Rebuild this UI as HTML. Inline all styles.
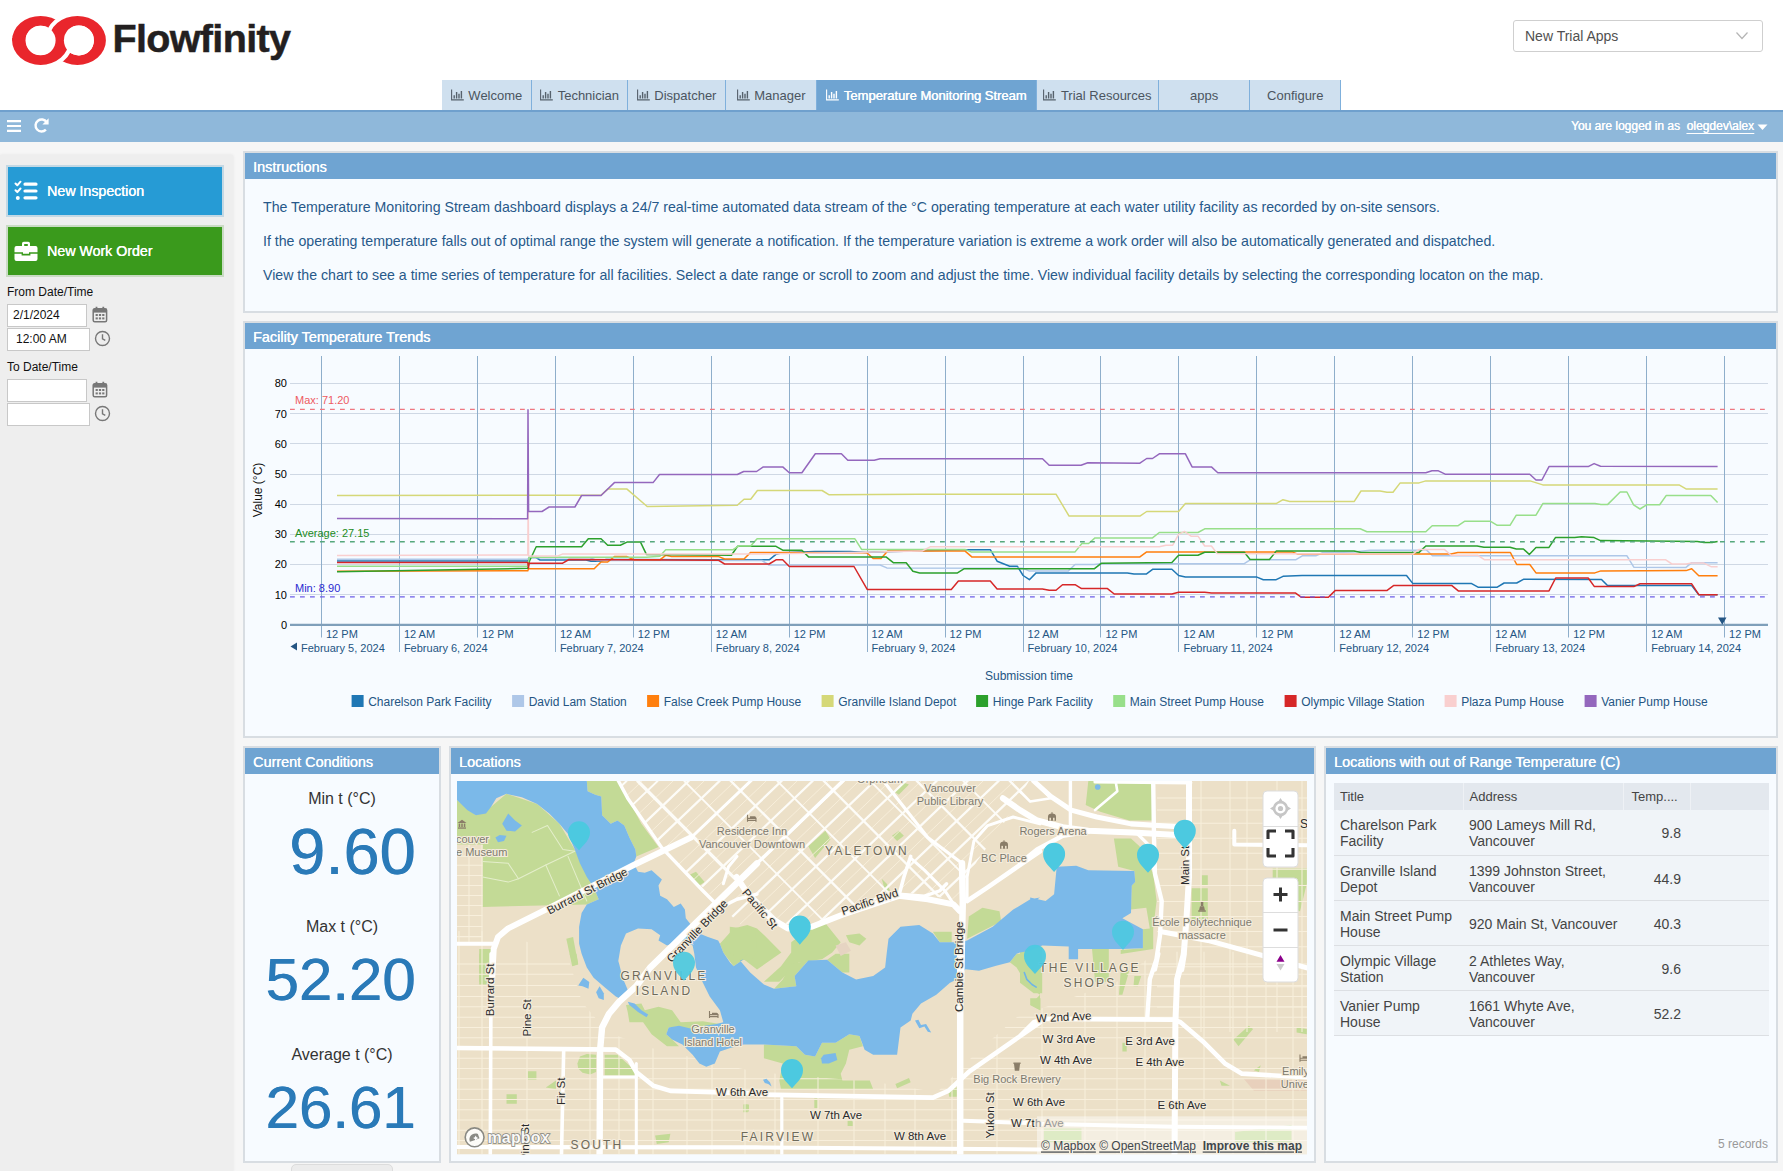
<!DOCTYPE html>
<html>
<head>
<meta charset="utf-8">
<title>Flowfinity - Temperature Monitoring Stream</title>
<style>
*{box-sizing:border-box;margin:0;padding:0}
html,body{width:1783px;height:1171px;overflow:hidden;background:#f6f6f6;font-family:"Liberation Sans",sans-serif;}
.abs{position:absolute}
#top{position:absolute;left:0;top:0;width:1783px;height:110px;background:#fff}
#logo{position:absolute;left:0;top:0}
#sel{position:absolute;left:1513px;top:20px;width:250px;height:32px;border:1px solid #cfcfcf;border-radius:3px;background:#fff;color:#505050;font-size:14px;line-height:30px;padding-left:11px}
#tabs{position:absolute;left:442px;top:80px;height:30px;display:flex}
.tab{height:30px;background:#cfe0ef;border-right:1px solid #7fb0dc;color:#4b5560;font-size:13px;line-height:31px;white-space:nowrap;display:flex;justify-content:center;align-items:center}
.tab.act{background:#6fa4d2;color:#fff;text-shadow:0.4px 0 0 #fff}
.tab svg{margin-right:4.5px;margin-top:-1px;flex:none}
#bar{position:absolute;left:0;top:110px;width:1783px;height:32px;background:#8fb8da;border-top:2px solid #6fa0cd}
#bar .login{position:absolute;right:29px;top:7px;color:#fff;font-size:12px;white-space:nowrap;text-shadow:0.3px 0 0 #fff}
#side{position:absolute;left:0;top:155px;width:233px;height:1017px;background:#eeeeee;box-shadow:0 0 3px rgba(0,0,0,0.08)}
.btn{position:absolute;left:6px;width:218px;height:52px;border:2px solid #c9cfd3;color:#fff;font-size:14.2px;text-shadow:0.3px 0 0 #fff}
.btn span{position:absolute;left:39px;top:16px;white-space:nowrap}
.lbl{position:absolute;left:7px;font-size:12px;color:#111;white-space:nowrap}
.inp{position:absolute;left:7px;height:23px;background:#fff;border:1px solid #c8c8c8;font-size:12px;color:#111;line-height:21px}
.panel{position:absolute;background:#f7fbff;border:2px solid #d8dde2}
.panel .hd{position:absolute;left:0;top:0;right:0;height:26px;background:#6fa4d2;color:#fff;font-size:14.4px;line-height:29.6px;padding-left:8px;overflow:hidden;text-shadow:0.3px 0 0 #fff;white-space:nowrap}
.ins{position:absolute;left:18px;font-size:14.17px;color:#27598a;white-space:nowrap}
.cl{position:absolute;left:0;width:194px;text-align:center;font-size:16px;color:#333;white-space:nowrap}
.cv{position:absolute;right:23.5px;font-size:60px;color:#2a7ab8;white-space:nowrap;line-height:60px;text-shadow:0.6px 0 0 #2a7ab8}
table.g{position:absolute;left:8px;top:35px;border-collapse:collapse;font-size:14px;color:#444;table-layout:fixed;width:435px}
table.g th{height:27px;background:#e3e8ee;font-weight:normal;text-align:left;font-size:13px;padding-left:6px;border-right:1px solid #eef1f5;color:#444}
table.g td{height:45px;background:#f0f4f8;border-bottom:1px solid #dcdfe3;padding-left:6px;padding-top:2px;line-height:16px;vertical-align:middle}
table.g td.n{text-align:right;padding-right:9px}
</style>
</head>
<body>
<div id="top">
<svg id="logo" width="320" height="80" viewBox="0 0 320 80">

<defs><clipPath id="ct"><rect x="0" y="0" width="120" height="40.4"/></clipPath>
<clipPath id="cb"><rect x="0" y="40.4" width="120" height="40"/></clipPath><clipPath id="cb2"><rect x="0" y="38" width="120" height="42"/></clipPath></defs>
<path id="lr" fill="#e9262c" fill-rule="evenodd" d="M12.1 40.4a28.5 24.5 0 1 0 57 0a28.5 24.5 0 1 0 -57 0zM25.6 40.5a15 14.8 0 1 1 30 0a15 14.8 0 1 1 -30 0z"/>
<ellipse cx="77.4" cy="40.4" rx="28.5" ry="24.5" fill="none" stroke="#fff" stroke-width="8.4" clip-path="url(#ct)"/>
<path fill="#e9262c" fill-rule="evenodd" d="M48.9 40.4a28.5 24.5 0 1 0 57 0a28.5 24.5 0 1 0 -57 0zM63.9 40.4a15 15 0 1 1 30 0a15 15 0 1 1 -30 0z"/>
<ellipse cx="40.6" cy="40.4" rx="28.5" ry="24.5" fill="none" stroke="#fff" stroke-width="8.4" clip-path="url(#cb)"/>
<g clip-path="url(#cb2)"><path fill="#e9262c" fill-rule="evenodd" d="M12.1 40.4a28.5 24.5 0 1 0 57 0a28.5 24.5 0 1 0 -57 0zM25.6 40.5a15 14.8 0 1 1 30 0a15 14.8 0 1 1 -30 0z"/></g>
<ellipse cx="40.6" cy="40.5" rx="15" ry="14.8" fill="#fff"/><ellipse cx="78.9" cy="40.4" rx="15" ry="15" fill="#fff"/>
<text x="112.5" y="52" font-family="Liberation Sans" font-weight="bold" font-size="39.5" letter-spacing="-0.65" fill="#231f20" stroke="#231f20" stroke-width="0.5">Flowfinity</text>

</svg>
<div id="sel">New Trial Apps
<svg class="abs" style="left:221px;top:10px" width="14" height="10" viewBox="0 0 14 10"><path d="M1.5 1.5 L7 7.5 L12.5 1.5" fill="none" stroke="#b5b5b5" stroke-width="1.2"/></svg>
</div>
<div id="tabs">
<div class="tab" style="width:90.2px"><svg width="13" height="12" viewBox="0 0 13 12"><path d="M0.6 0.5V10.9H12.8" fill="none" stroke="#56616c" stroke-width="1.1"/><path d="M3.2 9.6V6.2M5.6 9.6V3.0M8 9.6V4.8M10.4 9.6V2.0" stroke="#56616c" stroke-width="1.4" fill="none"/></svg><span>Welcome</span></div><div class="tab" style="width:95.9px"><svg width="13" height="12" viewBox="0 0 13 12"><path d="M0.6 0.5V10.9H12.8" fill="none" stroke="#56616c" stroke-width="1.1"/><path d="M3.2 9.6V6.2M5.6 9.6V3.0M8 9.6V4.8M10.4 9.6V2.0" stroke="#56616c" stroke-width="1.4" fill="none"/></svg><span>Technician</span></div><div class="tab" style="width:98.1px"><svg width="13" height="12" viewBox="0 0 13 12"><path d="M0.6 0.5V10.9H12.8" fill="none" stroke="#56616c" stroke-width="1.1"/><path d="M3.2 9.6V6.2M5.6 9.6V3.0M8 9.6V4.8M10.4 9.6V2.0" stroke="#56616c" stroke-width="1.4" fill="none"/></svg><span>Dispatcher</span></div><div class="tab" style="width:90.8px"><svg width="13" height="12" viewBox="0 0 13 12"><path d="M0.6 0.5V10.9H12.8" fill="none" stroke="#56616c" stroke-width="1.1"/><path d="M3.2 9.6V6.2M5.6 9.6V3.0M8 9.6V4.8M10.4 9.6V2.0" stroke="#56616c" stroke-width="1.4" fill="none"/></svg><span>Manager</span></div><div class="tab act" style="width:219.8px"><svg width="13" height="12" viewBox="0 0 13 12"><path d="M0.6 0.5V10.9H12.8" fill="none" stroke="#fff" stroke-width="1.1"/><path d="M3.2 9.6V6.2M5.6 9.6V3.0M8 9.6V4.8M10.4 9.6V2.0" stroke="#fff" stroke-width="1.4" fill="none"/></svg><span>Temperature Monitoring Stream</span></div><div class="tab" style="width:122.3px"><svg width="13" height="12" viewBox="0 0 13 12"><path d="M0.6 0.5V10.9H12.8" fill="none" stroke="#56616c" stroke-width="1.1"/><path d="M3.2 9.6V6.2M5.6 9.6V3.0M8 9.6V4.8M10.4 9.6V2.0" stroke="#56616c" stroke-width="1.4" fill="none"/></svg><span>Trial Resources</span></div><div class="tab" style="width:91.3px"><span>apps</span></div><div class="tab" style="width:90.8px"><span>Configure</span></div>
</div>
</div>
<div id="bar">
<svg class="abs" style="left:6px;top:7px" width="16" height="14" viewBox="0 0 16 14"><path d="M1 2.2h14M1 7h14M1 11.8h14" stroke="#fff" stroke-width="2.2" fill="none"/></svg>
<svg class="abs" style="left:33px;top:5.3px" width="17" height="17" viewBox="0 0 17 17"><path d="M13.6 5.2A6 6 0 1 0 12.9 12.6" fill="none" stroke="#fff" stroke-width="2.4"/><path d="M15.6 1.2v6.2h-6.2z" fill="#fff"/></svg>
<div class="login">You are logged in as&nbsp; <span style="text-decoration:underline;text-underline-offset:2.5px">olegdev\alex</span></div>
<svg class="abs" style="left:1757px;top:12px" width="12" height="7" viewBox="0 0 12 7"><path d="M0.5 0.5h10l-5 5.5z" fill="#fff"/></svg>
</div>
<div id="side">
<div class="btn" style="top:10px;background:#269bd5;border-color:#c3d8e4">
<svg class="abs" style="left:6.4px;top:13px" width="24" height="22" viewBox="0 0 24 22"><g fill="none" stroke="#fff" stroke-width="2" stroke-linecap="round" stroke-linejoin="round"><path d="M1.5 3.5l1.8 1.8 3.2-3.6M1.5 10.3l1.8 1.8 3.2-3.6"/></g><circle cx="3.8" cy="18" r="2" fill="#fff"/><g stroke="#fff" stroke-width="3.2" stroke-linecap="round"><path d="M11 4.2h11M11 11h11M11 17.8h11"/></g></svg>
<span>New Inspection</span></div>
<div class="btn" style="top:70px;background:#3a9a1c;border-color:#c9dbc4">
<svg class="abs" style="left:6.4px;top:13px" width="24" height="22" viewBox="0 0 24 22"><path fill="#fff" d="M8 3.5a1.8 1.8 0 0 1 1.8-1.8h4.4a1.8 1.8 0 0 1 1.8 1.8V6h-2.2V3.9H10.2V6H8z"/><path fill="#fff" d="M2.5 6h19a2 2 0 0 1 2 2v4.2H15v1.6H9v-1.6H0.5V8a2 2 0 0 1 2-2z"/><path fill="#fff" d="M0.5 13.8H7.6v1.6h8.8v-1.6h7.1V19a2 2 0 0 1-2 2h-19a2 2 0 0 1-2-2z"/></svg>
<span>New Work Order</span></div>
<div class="lbl" style="top:130px">From Date/Time</div>
<div class="inp" style="top:149px;width:80px;padding-left:5px">2/1/2024</div>
<div class="inp" style="top:173px;width:83px;padding-left:8px">12:00 AM</div>
<div class="lbl" style="top:205px">To Date/Time</div>
<div class="inp" style="top:224px;width:80px"></div>
<div class="inp" style="top:248px;width:83px"></div>
<svg class="abs" style="left:92px;top:151px" width="16" height="17" viewBox="0 0 16 17"><rect x="1.2" y="2.8" width="13.4" height="13" rx="1.5" fill="none" stroke="#777" stroke-width="1.5"/><rect x="1.2" y="2.8" width="13.4" height="3.8" fill="#777"/><path d="M4.5 0.8v3M11.3 0.8v3" stroke="#777" stroke-width="1.8"/><g fill="#777"><rect x="3.6" y="8" width="2.2" height="2"/><rect x="6.9" y="8" width="2.2" height="2"/><rect x="10.2" y="8" width="2.2" height="2"/><rect x="3.6" y="11.4" width="2.2" height="2"/><rect x="6.9" y="11.4" width="2.2" height="2"/><rect x="10.2" y="11.4" width="2.2" height="2"/></g></svg><svg class="abs" style="left:94px;top:175.4px" width="17" height="17" viewBox="0 0 17 17"><circle cx="8.5" cy="8.5" r="7" fill="none" stroke="#777" stroke-width="1.4"/><path d="M8.5 4.2v4.6l2.8 1.6" fill="none" stroke="#777" stroke-width="1.4"/></svg><svg class="abs" style="left:92px;top:226px" width="16" height="17" viewBox="0 0 16 17"><rect x="1.2" y="2.8" width="13.4" height="13" rx="1.5" fill="none" stroke="#777" stroke-width="1.5"/><rect x="1.2" y="2.8" width="13.4" height="3.8" fill="#777"/><path d="M4.5 0.8v3M11.3 0.8v3" stroke="#777" stroke-width="1.8"/><g fill="#777"><rect x="3.6" y="8" width="2.2" height="2"/><rect x="6.9" y="8" width="2.2" height="2"/><rect x="10.2" y="8" width="2.2" height="2"/><rect x="3.6" y="11.4" width="2.2" height="2"/><rect x="6.9" y="11.4" width="2.2" height="2"/><rect x="10.2" y="11.4" width="2.2" height="2"/></g></svg><svg class="abs" style="left:94px;top:250.4px" width="17" height="17" viewBox="0 0 17 17"><circle cx="8.5" cy="8.5" r="7" fill="none" stroke="#777" stroke-width="1.4"/><path d="M8.5 4.2v4.6l2.8 1.6" fill="none" stroke="#777" stroke-width="1.4"/></svg>
</div>

<div class="panel" style="left:243px;top:151px;width:1535px;height:162px">
<div class="hd">Instructions</div>
<div class="ins" style="top:46px">The Temperature Monitoring Stream dashboard displays a 24/7 real-time automated data stream of the °C operating temperature at each water utility facility as recorded by on-site sensors.</div>
<div class="ins" style="top:80px">If the operating temperature falls out of optimal range the system will generate a notification. If the temperature variation is extreme a work order will also be automatically generated and dispatched.</div>
<div class="ins" style="top:114px">View the chart to see a time series of temperature for all facilities. Select a date range or scroll to zoom and adjust the time. View individual facility details by selecting the corresponding locaton on the map.</div>
</div>

<div class="panel" style="left:243px;top:321px;width:1535px;height:417px">
<div class="hd">Facility Temperature Trends</div>
<svg class="abs" style="left:0;top:26px" width="1531" height="387" viewBox="245 349 1531 387" font-family="Liberation Sans, sans-serif">
<path d="M290 594.5H1768" stroke="#cfd8e4" stroke-width="1"/>
<path d="M290 564.5H1768" stroke="#cfd8e4" stroke-width="1"/>
<path d="M290 534.5H1768" stroke="#cfd8e4" stroke-width="1"/>
<path d="M290 504.5H1768" stroke="#cfd8e4" stroke-width="1"/>
<path d="M290 474.5H1768" stroke="#cfd8e4" stroke-width="1"/>
<path d="M290 443.5H1768" stroke="#cfd8e4" stroke-width="1"/>
<path d="M290 413.5H1768" stroke="#cfd8e4" stroke-width="1"/>
<path d="M290 383.5H1768" stroke="#cfd8e4" stroke-width="1"/>
<path d="M321.5 356V637.5" stroke="#8eaecb" stroke-width="1"/>
<path d="M399.5 356V652.0" stroke="#8eaecb" stroke-width="1"/>
<path d="M477.5 356V637.5" stroke="#8eaecb" stroke-width="1"/>
<path d="M555.5 356V652.0" stroke="#8eaecb" stroke-width="1"/>
<path d="M633.5 356V637.5" stroke="#8eaecb" stroke-width="1"/>
<path d="M711.5 356V652.0" stroke="#8eaecb" stroke-width="1"/>
<path d="M789.5 356V637.5" stroke="#8eaecb" stroke-width="1"/>
<path d="M867.5 356V652.0" stroke="#8eaecb" stroke-width="1"/>
<path d="M945.5 356V637.5" stroke="#8eaecb" stroke-width="1"/>
<path d="M1023.5 356V652.0" stroke="#8eaecb" stroke-width="1"/>
<path d="M1100.5 356V637.5" stroke="#8eaecb" stroke-width="1"/>
<path d="M1178.5 356V652.0" stroke="#8eaecb" stroke-width="1"/>
<path d="M1256.5 356V637.5" stroke="#8eaecb" stroke-width="1"/>
<path d="M1334.5 356V652.0" stroke="#8eaecb" stroke-width="1"/>
<path d="M1412.5 356V637.5" stroke="#8eaecb" stroke-width="1"/>
<path d="M1490.5 356V652.0" stroke="#8eaecb" stroke-width="1"/>
<path d="M1568.5 356V637.5" stroke="#8eaecb" stroke-width="1"/>
<path d="M1646.5 356V652.0" stroke="#8eaecb" stroke-width="1"/>
<path d="M1724.5 356V637.5" stroke="#8eaecb" stroke-width="1"/>
<path d="M290 624.9H1768" stroke="#7f9fba" stroke-width="2.1"/>
<text x="287" y="628.6" font-size="11" fill="#000" text-anchor="end">0</text>
<text x="287" y="598.5" font-size="11" fill="#000" text-anchor="end">10</text>
<text x="287" y="568.4" font-size="11" fill="#000" text-anchor="end">20</text>
<text x="287" y="538.3" font-size="11" fill="#000" text-anchor="end">30</text>
<text x="287" y="508.2" font-size="11" fill="#000" text-anchor="end">40</text>
<text x="287" y="478.1" font-size="11" fill="#000" text-anchor="end">50</text>
<text x="287" y="447.9" font-size="11" fill="#000" text-anchor="end">60</text>
<text x="287" y="417.8" font-size="11" fill="#000" text-anchor="end">70</text>
<text x="287" y="386.7" font-size="11" fill="#000" text-anchor="end">80</text>
<text transform="translate(262,490) rotate(-90)" font-size="12" fill="#111" text-anchor="middle">Value (°C)</text>
<path d="M337.0 561.0 L527.8 561.0 L529.0 557.5 L536.0 557.5 L540.0 560.0 L586.0 560.0 L591.0 561.2 L601.0 561.2 L606.0 559.5 L718.7 559.8 L769.2 559.8 L776.0 554.4 L782.0 552.7 L815.0 551.5 L850.0 551.5 L866.7 552.5 L873.4 552.0 L965.1 549.7 L990.3 549.7 L997.1 561.2 L1009.7 566.2 L1017.3 566.2 L1023.1 575.5 L1029.4 579.7 L1036.1 572.9 L1127.3 572.9 L1134.0 574.1 L1146.2 574.1 L1152.9 569.2 L1171.9 569.2 L1178.6 575.5 L1185.4 577.1 L1256.9 577.1 L1263.3 579.7 L1276.2 579.7 L1283.0 576.3 L1302.0 575.5 L1406.5 575.5 L1412.7 583.4 L1471.2 583.4 L1478.0 587.2 L1497.3 587.2 L1504.1 583.0 L1516.7 583.0 L1523.4 579.3 L1601.5 579.4 L1607.5 585.6 L1691.7 585.6 L1698.8 594.7 L1717.6 594.7" fill="none" stroke="#1f77b4" stroke-width="1.5" stroke-linejoin="round"/>
<path d="M337.0 559.3 L527.8 559.3 L529.0 557.8 L590.0 557.8 L597.0 560.5 L762.0 560.5 L769.0 565.0 L880.1 565.0 L886.8 567.9 L1023.0 568.3 L1029.0 570.9 L1068.4 570.9 L1075.1 564.5 L1094.0 564.5 L1101.0 563.7 L1244.3 563.7 L1250.1 559.8 L1295.6 559.8 L1302.3 555.8 L1315.8 555.8 L1322.5 552.7 L1354.0 552.0 L1370.0 550.2 L1419.0 550.2 L1425.8 549.4 L1432.5 555.8 L1626.8 555.7 L1633.8 567.2 L1686.0 567.4 L1691.7 562.7 L1717.6 562.7" fill="none" stroke="#aec7e8" stroke-width="1.5" stroke-linejoin="round"/>
<path d="M337.0 571.3 L527.8 570.8 L528.5 568.7 L594.2 568.7 L601.0 562.0 L607.7 562.0 L614.4 556.6 L627.0 556.6 L633.8 559.8 L659.9 559.8 L665.7 555.3 L671.6 556.6 L718.7 556.6 L724.6 559.0 L744.0 559.0 L750.7 552.4 L866.7 552.7 L873.4 558.6 L881.0 558.6 L887.7 551.1 L965.1 551.1 L971.8 556.9 L1139.9 556.9 L1146.7 551.9 L1292.0 551.9 L1298.0 554.1 L1451.1 554.1 L1457.8 552.4 L1510.3 552.4 L1516.7 564.5 L1529.8 564.5 L1536.0 572.9 L1594.9 572.9 L1600.8 570.9 L1686.0 570.6 L1691.7 568.7 L1698.8 575.7 L1717.6 575.7" fill="none" stroke="#ff7f0e" stroke-width="1.5" stroke-linejoin="round"/>
<path d="M337.0 495.5 L601.0 495.2 L607.7 489.1 L627.0 489.1 L647.2 506.5 L737.3 505.3 L744.0 499.2 L750.7 499.2 L757.4 490.5 L822.1 490.5 L828.8 494.7 L919.0 494.2 L1056.0 494.2 L1069.1 516.1 L1139.9 516.1 L1146.7 511.5 L1178.6 511.5 L1185.4 503.6 L1276.2 503.6 L1283.0 499.7 L1289.7 501.4 L1354.3 501.4 L1361.0 491.0 L1380.0 491.0 L1387.0 492.2 L1393.0 492.2 L1400.2 482.9 L1419.1 482.9 L1425.8 480.9 L1530.1 480.9 L1542.8 484.9 L1679.5 485.1 L1686.0 488.9 L1717.6 488.9" fill="none" stroke="#d5d878" stroke-width="1.5" stroke-linejoin="round"/>
<path d="M337.0 571.8 L527.8 568.3 L529.5 561.0 L536.2 546.8 L581.6 546.8 L588.3 538.8 L601.0 538.8 L607.7 545.2 L620.3 545.2 L627.0 542.1 L640.5 542.1 L646.4 554.4 L731.4 555.2 L737.6 546.3 L776.0 546.3 L782.7 550.2 L801.9 550.2 L808.6 556.9 L886.0 556.9 L893.6 562.8 L906.2 562.8 L912.9 571.2 L919.7 572.9 L957.5 572.9 L964.3 568.7 L1094.5 568.7 L1101.2 563.3 L1171.9 562.5 L1178.6 555.3 L1198.0 555.3 L1204.7 552.2 L1244.3 552.2 L1250.1 559.5 L1269.5 559.5 L1276.2 551.1 L1354.0 551.1 L1361.0 552.4 L1419.1 552.4 L1425.8 546.0 L1477.1 546.0 L1483.9 547.2 L1510.0 547.2 L1516.3 549.0 L1523.4 549.0 L1529.3 554.4 L1536.0 547.4 L1549.0 547.4 L1555.4 537.6 L1574.7 537.6 L1581.5 536.8 L1594.1 537.6 L1600.5 540.6 L1697.3 541.5 L1704.0 542.4 L1712.0 542.4 L1717.6 541.5" fill="none" stroke="#2ca02c" stroke-width="1.5" stroke-linejoin="round"/>
<path d="M337.0 566.3 L527.8 566.3 L529.0 557.3 L646.4 557.3 L659.9 556.2 L665.7 549.7 L733.0 549.7 L738.9 546.0 L750.7 546.0 L757.1 538.8 L854.9 538.8 L861.6 549.4 L965.1 549.4 L971.0 551.9 L1075.1 551.9 L1081.9 543.5 L1088.6 543.5 L1095.0 537.9 L1152.5 537.9 L1159.3 532.5 L1198.0 532.5 L1204.7 528.8 L1360.2 528.8 L1366.9 531.7 L1425.8 531.7 L1432.2 525.8 L1457.8 525.8 L1464.5 521.3 L1490.6 521.3 L1497.3 525.3 L1510.0 525.3 L1516.3 515.2 L1536.0 515.2 L1542.8 503.6 L1594.9 503.6 L1601.0 504.6 L1607.5 504.6 L1620.2 492.0 L1626.9 492.0 L1633.6 504.8 L1640.0 509.0 L1646.6 504.8 L1659.7 504.8 L1666.3 495.4 L1710.8 495.4 L1717.6 502.6" fill="none" stroke="#98df8a" stroke-width="1.5" stroke-linejoin="round"/>
<path d="M337.0 562.4 L527.8 562.4 L528.5 568.0 L529.0 563.3 L562.3 563.3 L569.0 559.5 L718.7 560.3 L724.6 564.0 L769.2 564.0 L776.0 559.8 L782.7 559.8 L789.3 566.5 L854.0 566.5 L867.2 589.4 L951.3 589.4 L958.4 581.0 L990.3 581.0 L997.1 588.9 L1042.5 588.9 L1049.2 590.3 L1056.0 590.3 L1062.5 584.7 L1075.1 584.7 L1081.5 588.6 L1107.5 588.6 L1114.2 594.0 L1171.9 594.0 L1178.6 592.3 L1204.7 592.3 L1211.4 593.1 L1295.6 593.1 L1301.5 597.3 L1328.4 597.3 L1335.1 590.6 L1386.8 590.6 L1393.5 585.6 L1451.9 585.6 L1458.3 590.9 L1549.0 590.9 L1555.7 578.0 L1588.2 578.0 L1594.4 586.6 L1633.8 586.6 L1640.0 583.8 L1691.7 583.8 L1698.8 594.7 L1717.6 594.7" fill="none" stroke="#d62728" stroke-width="1.5" stroke-linejoin="round"/>
<path d="M337.0 555.6 L527.8 554.9 L528.2 500.0 L528.6 556.1 L557.2 556.1 L562.3 554.1 L760.0 554.1 L850.0 552.5 L922.0 551.1 L930.0 546.8 L1159.3 546.8 L1166.0 545.2 L1172.7 545.2 L1178.6 534.3 L1184.5 531.4 L1191.0 536.2 L1198.0 536.2 L1204.7 546.0 L1211.4 546.0 L1217.3 553.6 L1412.7 554.1 L1419.1 549.4 L1444.3 549.4 L1451.1 555.3 L1478.0 555.3 L1484.7 559.8 L1665.4 559.7 L1671.9 564.0 L1686.0 564.0 L1691.7 563.1 L1703.9 563.1 L1711.4 566.8 L1717.6 566.8" fill="none" stroke="#f9cfcf" stroke-width="1.5" stroke-linejoin="round"/>
<path d="M337.0 518.5 L527.6 518.7 L528.0 409.7 L528.6 511.5 L542.0 511.5 L549.1 507.0 L574.9 507.0 L581.6 495.5 L601.0 495.5 L614.4 482.6 L653.1 482.6 L659.5 474.5 L737.3 474.5 L743.7 471.5 L756.6 471.5 L763.3 466.9 L782.7 466.9 L789.3 472.8 L801.9 472.8 L815.3 453.8 L841.4 453.8 L847.8 460.2 L874.2 460.2 L880.1 458.8 L1042.5 458.8 L1049.2 465.2 L1081.0 465.2 L1087.8 462.7 L1139.9 463.2 L1146.7 458.5 L1152.5 458.5 L1159.3 453.8 L1185.4 453.8 L1192.1 466.9 L1211.4 466.9 L1217.8 472.8 L1425.8 472.8 L1432.0 470.8 L1438.4 470.8 L1445.2 474.2 L1529.8 474.2 L1536.0 480.0 L1541.9 480.0 L1549.0 466.6 L1588.2 466.6 L1594.1 463.6 L1600.5 466.3 L1717.6 466.5" fill="none" stroke="#9467bd" stroke-width="1.5" stroke-linejoin="round"/>
<path d="M290 409.4H1768" stroke="#ef7780" stroke-width="1.3" stroke-dasharray="4.8 5.2"/>
<path d="M290 541.8H1768" stroke="#55a87c" stroke-width="1.4" stroke-dasharray="4.8 5.2"/>
<path d="M290 596.9H1768" stroke="#6d5fe8" stroke-width="1.4" stroke-dasharray="4.8 5.2"/>
<text x="295" y="404" font-size="11" fill="#ee5a62">Max: 71.20</text>
<text x="295" y="537" font-size="11" fill="#228b22">Average: 27.15</text>
<text x="295" y="592" font-size="11" fill="#2a2ad0">Min: 8.90</text>
<text x="326.0" y="638" font-size="11" fill="#245583">12 PM</text>
<text x="403.9" y="638" font-size="11" fill="#245583">12 AM</text>
<text x="481.9" y="638" font-size="11" fill="#245583">12 PM</text>
<text x="559.9" y="638" font-size="11" fill="#245583">12 AM</text>
<text x="637.8" y="638" font-size="11" fill="#245583">12 PM</text>
<text x="715.8" y="638" font-size="11" fill="#245583">12 AM</text>
<text x="793.7" y="638" font-size="11" fill="#245583">12 PM</text>
<text x="871.6" y="638" font-size="11" fill="#245583">12 AM</text>
<text x="949.6" y="638" font-size="11" fill="#245583">12 PM</text>
<text x="1027.6" y="638" font-size="11" fill="#245583">12 AM</text>
<text x="1105.5" y="638" font-size="11" fill="#245583">12 PM</text>
<text x="1183.5" y="638" font-size="11" fill="#245583">12 AM</text>
<text x="1261.4" y="638" font-size="11" fill="#245583">12 PM</text>
<text x="1339.3" y="638" font-size="11" fill="#245583">12 AM</text>
<text x="1417.3" y="638" font-size="11" fill="#245583">12 PM</text>
<text x="1495.2" y="638" font-size="11" fill="#245583">12 AM</text>
<text x="1573.2" y="638" font-size="11" fill="#245583">12 PM</text>
<text x="1651.2" y="638" font-size="11" fill="#245583">12 AM</text>
<text x="1729.1" y="638" font-size="11" fill="#245583">12 PM</text>
<text x="301" y="652" font-size="11" fill="#245583">February 5, 2024</text>
<path d="M297 642.5v8l-6.5-4z" fill="#245583"/>
<text x="403.9" y="652" font-size="11" fill="#245583">February 6, 2024</text>
<text x="559.9" y="652" font-size="11" fill="#245583">February 7, 2024</text>
<text x="715.8" y="652" font-size="11" fill="#245583">February 8, 2024</text>
<text x="871.6" y="652" font-size="11" fill="#245583">February 9, 2024</text>
<text x="1027.6" y="652" font-size="11" fill="#245583">February 10, 2024</text>
<text x="1183.5" y="652" font-size="11" fill="#245583">February 11, 2024</text>
<text x="1339.3" y="652" font-size="11" fill="#245583">February 12, 2024</text>
<text x="1495.2" y="652" font-size="11" fill="#245583">February 13, 2024</text>
<text x="1651.2" y="652" font-size="11" fill="#245583">February 14, 2024</text>
<path d="M1718 617.5h8.5l-4.2 7.2z" fill="#245583"/>
<text x="1029" y="680" font-size="12" fill="#245583" text-anchor="middle">Submission time</text>
<rect x="351.6" y="695" width="12" height="12" fill="#1f77b4"/>
<text x="368.2" y="706" font-size="12" fill="#245583">Charelson Park Facility</text>
<rect x="512.1" y="695" width="12" height="12" fill="#aec7e8"/>
<text x="528.7" y="706" font-size="12" fill="#245583">David Lam Station</text>
<rect x="647.1" y="695" width="12" height="12" fill="#ff7f0e"/>
<text x="663.7" y="706" font-size="12" fill="#245583">False Creek Pump House</text>
<rect x="821.6" y="695" width="12" height="12" fill="#d5d878"/>
<text x="838.2" y="706" font-size="12" fill="#245583">Granville Island Depot</text>
<rect x="976.1" y="695" width="12" height="12" fill="#2ca02c"/>
<text x="992.7" y="706" font-size="12" fill="#245583">Hinge Park Facility</text>
<rect x="1113.2" y="695" width="12" height="12" fill="#98df8a"/>
<text x="1129.8" y="706" font-size="12" fill="#245583">Main Street Pump House</text>
<rect x="1284.6" y="695" width="12" height="12" fill="#d62728"/>
<text x="1301.2" y="706" font-size="12" fill="#245583">Olympic Village Station</text>
<rect x="1444.6" y="695" width="12" height="12" fill="#f9cfcf"/>
<text x="1461.2" y="706" font-size="12" fill="#245583">Plaza Pump House</text>
<rect x="1584.6" y="695" width="12" height="12" fill="#9467bd"/>
<text x="1601.2" y="706" font-size="12" fill="#245583">Vanier Pump House</text>
</svg>
</div>

<div class="panel" style="left:243px;top:746px;width:198px;height:417px">
<div class="hd">Current Conditions</div>
<div class="cl" style="top:42px">Min t (°C)</div>
<div class="cv" style="top:73.8px;font-size:65px">9.60</div>
<div class="cl" style="top:170px">Max t (°C)</div>
<div class="cv" style="top:202px">52.20</div>
<div class="cl" style="top:298px">Average t (°C)</div>
<div class="cv" style="top:330px">26.61</div>
</div>

<div class="panel" style="left:449px;top:746px;width:867px;height:417px">
<div class="hd">Locations</div>
<svg class="abs" style="left:6px;top:33px" width="850" height="373.5" viewBox="0 0 850 373.5" font-family="Liberation Sans, sans-serif">
<defs><clipPath id="mc"><rect x="0" y="0" width="850" height="372.01"/></clipPath><clipPath id="dt"><path d="M160 0 L205 68 L245 105 L285 145 L300 128 L345 150 L440 110 L500 118 L520 80 L545 45 L572 0Z"/></clipPath><clipPath id="south"><path d="M0 130 L35 150 L110 172 L125 220 L150 250 L190 265 L300 290 L420 300 L480 310 L520 270 L560 235 L660 200 L700 170 L850 170 L850 372 L0 372Z"/></clipPath><clipPath id="east"><path d="M700 0H850V250H700Z"/></clipPath></defs>
<g transform="scale(1,1.00403)"><g clip-path="url(#mc)">
<rect width="850" height="372" fill="#ece0c8"/>
<path d="M0.0 3.4 L0.0 63.2 L25.6 63.2 L25.6 125.5 L129.8 122.9 L141.7 117.8 L136.6 105.9 L117.8 68.3 L102.4 42.7 L80.2 23.0 L49.5 12.8 L34.1 25.6 L18.8 34.1 L0.0 18.8Z" fill="#c3da96" />
<path d="M129.8 0.0 L160.5 0.0 L170.7 17.1 L184.4 42.7 L201.5 65.7 L179.3 75.1 L178.4 68.3 L172.4 56.3 L167.3 44.4 L160.5 39.3 L153.7 42.7 L145.1 34.1 L144.3 15.4 L138.3 13.7 L130.6 10.2Z" fill="#c3da96" />
<path d="M233.1 93.1 L239.0 90.5 L247.6 100.7 L242.4 104.1Z" fill="#c3da96" />
<path d="M109.3 157.1 L116.1 155.4 L121.2 182.7 L115.2 184.4Z" fill="#c3da96" />
<path d="M22.2 167.3 L34.1 167.3 L34.1 199.9 L22.2 199.9Z" fill="#c3da96" />
<path d="M262.9 162.2 L276.6 146.8 L290.3 143.4 L300.0 146.8 L307.3 153.7 L324.4 170.7 L300.0 187.8 L286.8 177.6 L276.6 184.4 L266.3 170.7Z" fill="#c3da96" />
<path d="M22.2 172.0 L34.1 172.0 L34.1 202.7 L22.2 202.7Z" fill="#c3da96" />
<path d="M112.7 172.0 L119.5 172.0 L121.2 182.2 L116.1 184.0Z" fill="#c3da96" />
<path d="M169.0 223.2 L184.4 221.5 L187.8 228.3 L201.5 224.9 L215.1 228.3 L223.7 240.3 L245.9 239.4 L262.9 242.0 L247.6 244.6 L235.6 248.0 L222.0 244.6 L211.7 245.4 L209.2 252.2 L215.1 257.4 L222.0 264.2 L210.0 264.2 L194.6 252.2 L186.1 240.3 L172.4 240.3 L170.7 230.1Z" fill="#c3da96" />
<path d="M147.7 272.7 L160.5 272.7 L177.6 288.1 L177.6 293.2 L147.7 293.2Z" fill="#c3da96" />
<path d="M70.9 289.0 L79.4 289.0 L79.4 297.5 L70.9 297.5Z" fill="#c3da96" />
<path d="M120.4 281.3 L122.9 274.4 L129.8 271.9 L139.1 272.7 L139.1 289.8 L133.2 292.4 L125.5 290.7 L121.2 286.4Z" fill="#c3da96" />
<path d="M49.5 312.0 L59.8 312.0 L59.8 321.4 L49.5 321.4Z" fill="#c3da96" />
<path d="M88.8 305.2 L99.0 298.3 L99.0 306.9Z" fill="#c3da96" />
<path d="M198.1 353.0 L213.4 351.3 L211.7 359.8 L199.8 361.5Z" fill="#c3da96" />
<path d="M286.8 322.2 L292.0 322.2 L292.0 329.1 L286.8 329.1Z" fill="#c3da96" />
<path d="M272.8 145.1 L298.4 148.5 L300.1 170.7 L293.2 179.3 L283.0 177.6 L272.8 170.7Z" fill="#c3da96" />
<path d="M334.2 160.5 L354.7 145.1 L368.4 141.7 L383.7 160.5 L375.2 170.7 L365.0 177.6 L341.1 181.0 L322.3 199.9 L306.9 199.9 L324.0 184.4 L334.2 170.7Z" fill="#c3da96" />
<path d="M351.3 64.9 L368.4 49.5 L373.5 58.1 L358.1 76.8Z" fill="#c3da96" />
<path d="M435.0 54.6 L441.8 49.5 L446.9 54.6 L440.1 59.8Z" fill="#c3da96" />
<path d="M436.7 10.2 L446.9 1.7 L452.0 3.4 L441.8 13.7Z" fill="#c3da96" />
<path d="M424.7 97.3 L429.8 102.4 L433.2 109.3 L428.1 109.3Z" fill="#c3da96" />
<path d="M511.8 134.9 L525.4 126.3 L542.5 129.8 L544.2 140.0 L510.1 157.1Z" fill="#c3da96" />
<path d="M475.9 150.2 L494.7 150.2 L494.7 160.5 L482.8 160.5Z" fill="#c3da96" />
<path d="M388.9 153.7 L402.5 152.0 L409.3 157.1 L402.5 163.9 L392.3 160.5Z" fill="#c3da96" />
<path d="M283.0 172.0 L291.5 172.0 L283.0 178.8Z" fill="#c3da96" />
<path d="M317.1 207.0 L339.3 204.4 L337.6 194.2 L351.3 178.8 L334.2 182.2 L325.7 197.6Z" fill="#c3da96" />
<path d="M370.1 178.0 L378.6 172.0 L392.3 172.0 L392.3 190.8 L385.4 190.8Z" fill="#c3da96" />
<path d="M306.9 262.5 L339.3 264.2 L347.9 272.7 L358.1 274.4 L365.0 260.8 L378.6 260.8 L392.3 252.2 L402.5 254.0 L405.9 264.2 L392.3 267.6 L388.9 281.3 L383.7 291.5 L385.4 298.3 L412.8 298.3 L416.2 306.9 L324.0 306.9 L322.3 298.3 L325.7 281.3 L306.9 276.1Z" fill="#c3da96" />
<path d="M552.8 180.5 L559.6 172.0 L583.0 172.0 L583.0 228.3 L573.3 223.2 L583.0 213.0 L573.3 206.1 L564.7 194.2 L559.6 185.7Z" fill="#c3da96" />
<path d="M438.4 301.8 L452.0 295.8 L453.7 300.1 L440.1 306.0Z" fill="#c3da96" />
<path d="M357.3 316.3 L360.7 316.3 L360.7 325.7 L357.3 325.7Z" fill="#c3da96" />
<path d="M491.3 308.6 L499.8 305.2 L499.8 314.6 L492.2 314.6Z" fill="#c3da96" />
<path d="M390.6 338.5 L395.7 338.5 L395.7 343.6 L390.6 343.6Z" fill="#c3da96" />
<path d="M286.4 322.2 L290.7 322.2 L290.7 329.9 L286.4 329.9Z" fill="#c3da96" />
<path d="M656.9 57.2 L674.0 57.2 L682.5 64.9 L696.2 92.2 L699.6 119.5 L696.2 146.8 L696.2 167.3 L663.7 172.4 L663.7 168.2 L685.9 166.5 L685.9 147.7 L692.8 146.8 L689.3 126.3 L674.0 128.1 L674.8 104.1 L678.2 100.7 L677.4 89.6 L661.2 85.4Z" fill="#c3da96" />
<path d="M631.3 0.0 L696.2 0.0 L695.3 39.3 L672.3 39.3 L643.2 30.7 L628.7 23.9 L630.4 8.5Z" fill="#c3da96" />
<path d="M734.6 106.7 L750.8 106.7 L750.8 141.7 L734.6 141.7Z" fill="#c3da96" />
<path d="M744.8 93.9 L750.8 93.9 L750.8 104.1 L744.8 104.1Z" fill="#c3da96" />
<path d="M815.7 87.1 L849.8 87.1 L849.8 102.4 L843.0 129.8 L815.7 119.5Z" fill="#c3da96" />
<path d="M634.7 163.9 L643.2 158.8 L651.8 163.9 L651.8 199.9 L638.1 199.9Z" fill="#c3da96" />
<path d="M563.0 166.9 L585.2 165.2 L585.2 211.3 L576.7 211.3 L563.0 201.0Z" fill="#c3da96" />
<path d="M663.7 189.1 L672.3 189.1 L665.4 213.0 L662.0 213.0Z" fill="#c3da96" />
<path d="M677.4 194.2 L684.2 194.2 L680.8 204.4 L676.5 204.4Z" fill="#c3da96" />
<path d="M573.2 216.4 L583.5 216.4 L583.5 228.3 L573.2 223.2Z" fill="#c3da96" />
<path d="M776.4 257.4 L791.8 243.7 L796.1 247.1 L781.5 264.2Z" fill="#c3da96" />
<path d="M762.8 298.3 L773.0 303.5 L764.5 303.5Z" fill="#c3da96" />
<path d="M796.9 288.1 L803.7 283.0 L802.0 289.8Z" fill="#c3da96" />
<path d="M839.6 245.4 L849.8 247.1 L849.8 252.2 L839.6 250.5Z" fill="#c3da96" />
<path d="M665.4 260.8 L669.7 260.8 L669.7 269.3 L665.4 269.3Z" fill="#c3da96" />
<path d="M586.9 346.2 L624.5 346.2 L624.5 359.8 L586.9 359.8Z" fill="#c3da96" />
<path d="M778.1 349.6 L834.5 342.7 L834.5 359.8 L778.1 359.8Z" fill="#c3da96" />
<path d="M786.7 296.6 L849.8 298.3 L849.8 308.6 L796.9 308.6Z" fill="#e8d0bc" />
<path d="M378.6 163.9 L388.9 160.5 L394.0 169.0 L383.7 174.2Z" fill="#e6d4c2" />
<g clip-path="url(#south)">
<path d="M0.0 182.2 L850.0 182.2" fill="none" stroke="#f8efdc" stroke-width="1.0" stroke-linejoin="round" stroke-linecap="round" />
<path d="M0.0 192.5 L850.0 192.5" fill="none" stroke="#f8efdc" stroke-width="1.0" stroke-linejoin="round" stroke-linecap="round" />
<path d="M0.0 203.6 L850.0 203.6" fill="none" stroke="#f8efdc" stroke-width="1.0" stroke-linejoin="round" stroke-linecap="round" />
<path d="M0.0 214.7 L850.0 214.7" fill="none" stroke="#f8efdc" stroke-width="1.0" stroke-linejoin="round" stroke-linecap="round" />
<path d="M0.0 224.9 L850.0 224.9" fill="none" stroke="#f8efdc" stroke-width="1.0" stroke-linejoin="round" stroke-linecap="round" />
<path d="M0.0 235.2 L850.0 235.2" fill="none" stroke="#f8efdc" stroke-width="1.0" stroke-linejoin="round" stroke-linecap="round" />
<path d="M0.0 245.4 L850.0 245.4" fill="none" stroke="#f8efdc" stroke-width="1.0" stroke-linejoin="round" stroke-linecap="round" />
<path d="M0.0 255.7 L850.0 255.7" fill="none" stroke="#f8efdc" stroke-width="1.0" stroke-linejoin="round" stroke-linecap="round" />
<path d="M0.0 276.1 L850.0 276.1" fill="none" stroke="#f8efdc" stroke-width="1.0" stroke-linejoin="round" stroke-linecap="round" />
<path d="M0.0 286.4 L850.0 286.4" fill="none" stroke="#f8efdc" stroke-width="1.0" stroke-linejoin="round" stroke-linecap="round" />
<path d="M0.0 296.6 L850.0 296.6" fill="none" stroke="#f8efdc" stroke-width="1.0" stroke-linejoin="round" stroke-linecap="round" />
<path d="M0.0 306.9 L850.0 306.9" fill="none" stroke="#f8efdc" stroke-width="1.0" stroke-linejoin="round" stroke-linecap="round" />
<path d="M0.0 317.1 L850.0 317.1" fill="none" stroke="#f8efdc" stroke-width="1.0" stroke-linejoin="round" stroke-linecap="round" />
<path d="M0.0 327.4 L850.0 327.4" fill="none" stroke="#f8efdc" stroke-width="1.0" stroke-linejoin="round" stroke-linecap="round" />
<path d="M0.0 337.6 L850.0 337.6" fill="none" stroke="#f8efdc" stroke-width="1.0" stroke-linejoin="round" stroke-linecap="round" />
<path d="M0.0 347.9 L850.0 347.9" fill="none" stroke="#f8efdc" stroke-width="1.0" stroke-linejoin="round" stroke-linecap="round" />
<path d="M0.0 358.1 L850.0 358.1" fill="none" stroke="#f8efdc" stroke-width="1.0" stroke-linejoin="round" stroke-linecap="round" />
<path d="M2.0 150.0 L2.0 372.0" fill="none" stroke="#f8efdc" stroke-width="1.0" stroke-linejoin="round" stroke-linecap="round" />
<path d="M25.0 150.0 L25.0 372.0" fill="none" stroke="#f8efdc" stroke-width="1.0" stroke-linejoin="round" stroke-linecap="round" />
<path d="M70.0 150.0 L70.0 372.0" fill="none" stroke="#f8efdc" stroke-width="1.0" stroke-linejoin="round" stroke-linecap="round" />
<path d="M133.0 150.0 L133.0 372.0" fill="none" stroke="#f8efdc" stroke-width="1.0" stroke-linejoin="round" stroke-linecap="round" />
<path d="M162.0 150.0 L162.0 372.0" fill="none" stroke="#f8efdc" stroke-width="1.0" stroke-linejoin="round" stroke-linecap="round" />
<path d="M196.0 150.0 L196.0 372.0" fill="none" stroke="#f8efdc" stroke-width="1.0" stroke-linejoin="round" stroke-linecap="round" />
<path d="M230.0 150.0 L230.0 372.0" fill="none" stroke="#f8efdc" stroke-width="1.0" stroke-linejoin="round" stroke-linecap="round" />
<path d="M255.0 150.0 L255.0 372.0" fill="none" stroke="#f8efdc" stroke-width="1.0" stroke-linejoin="round" stroke-linecap="round" />
<path d="M288.0 150.0 L288.0 372.0" fill="none" stroke="#f8efdc" stroke-width="1.0" stroke-linejoin="round" stroke-linecap="round" />
<path d="M318.0 150.0 L318.0 372.0" fill="none" stroke="#f8efdc" stroke-width="1.0" stroke-linejoin="round" stroke-linecap="round" />
<path d="M361.0 150.0 L361.0 372.0" fill="none" stroke="#f8efdc" stroke-width="1.0" stroke-linejoin="round" stroke-linecap="round" />
<path d="M397.0 150.0 L397.0 372.0" fill="none" stroke="#f8efdc" stroke-width="1.0" stroke-linejoin="round" stroke-linecap="round" />
<path d="M428.0 150.0 L428.0 372.0" fill="none" stroke="#f8efdc" stroke-width="1.0" stroke-linejoin="round" stroke-linecap="round" />
<path d="M458.0 150.0 L458.0 372.0" fill="none" stroke="#f8efdc" stroke-width="1.0" stroke-linejoin="round" stroke-linecap="round" />
<path d="M495.0 150.0 L495.0 372.0" fill="none" stroke="#f8efdc" stroke-width="1.0" stroke-linejoin="round" stroke-linecap="round" />
<path d="M540.0 150.0 L540.0 372.0" fill="none" stroke="#f8efdc" stroke-width="1.0" stroke-linejoin="round" stroke-linecap="round" />
<path d="M585.0 150.0 L585.0 372.0" fill="none" stroke="#f8efdc" stroke-width="1.0" stroke-linejoin="round" stroke-linecap="round" />
<path d="M628.0 150.0 L628.0 372.0" fill="none" stroke="#f8efdc" stroke-width="1.0" stroke-linejoin="round" stroke-linecap="round" />
<path d="M660.0 150.0 L660.0 372.0" fill="none" stroke="#f8efdc" stroke-width="1.0" stroke-linejoin="round" stroke-linecap="round" />
<path d="M688.0 150.0 L688.0 372.0" fill="none" stroke="#f8efdc" stroke-width="1.0" stroke-linejoin="round" stroke-linecap="round" />
<path d="M720.0 150.0 L720.0 372.0" fill="none" stroke="#f8efdc" stroke-width="1.0" stroke-linejoin="round" stroke-linecap="round" />
<path d="M747.0 150.0 L747.0 372.0" fill="none" stroke="#f8efdc" stroke-width="1.0" stroke-linejoin="round" stroke-linecap="round" />
<path d="M776.0 150.0 L776.0 372.0" fill="none" stroke="#f8efdc" stroke-width="1.0" stroke-linejoin="round" stroke-linecap="round" />
<path d="M809.0 150.0 L809.0 372.0" fill="none" stroke="#f8efdc" stroke-width="1.0" stroke-linejoin="round" stroke-linecap="round" />
<path d="M836.0 150.0 L836.0 372.0" fill="none" stroke="#f8efdc" stroke-width="1.0" stroke-linejoin="round" stroke-linecap="round" />
</g>
<path d="M0.0 75.0 L25.0 75.0" fill="none" stroke="#f8efdc" stroke-width="1.0" stroke-linejoin="round" stroke-linecap="round" />
<path d="M0.0 84.0 L25.0 84.0" fill="none" stroke="#f8efdc" stroke-width="1.0" stroke-linejoin="round" stroke-linecap="round" />
<path d="M0.0 94.0 L25.0 94.0" fill="none" stroke="#f8efdc" stroke-width="1.0" stroke-linejoin="round" stroke-linecap="round" />
<path d="M0.0 104.0 L25.0 104.0" fill="none" stroke="#f8efdc" stroke-width="1.0" stroke-linejoin="round" stroke-linecap="round" />
<path d="M0.0 114.0 L25.0 114.0" fill="none" stroke="#f8efdc" stroke-width="1.0" stroke-linejoin="round" stroke-linecap="round" />
<path d="M0.0 124.0 L25.0 124.0" fill="none" stroke="#f8efdc" stroke-width="1.0" stroke-linejoin="round" stroke-linecap="round" />
<path d="M0.0 134.0 L25.0 134.0" fill="none" stroke="#f8efdc" stroke-width="1.0" stroke-linejoin="round" stroke-linecap="round" />
<path d="M0.0 145.0 L25.0 145.0" fill="none" stroke="#f8efdc" stroke-width="1.0" stroke-linejoin="round" stroke-linecap="round" />
<path d="M0.0 155.0 L25.0 155.0" fill="none" stroke="#f8efdc" stroke-width="1.0" stroke-linejoin="round" stroke-linecap="round" />
<path d="M12.0 64.0 L12.0 160.0" fill="none" stroke="#f8efdc" stroke-width="1.0" stroke-linejoin="round" stroke-linecap="round" />
<path d="M25.0 64.0 L25.0 160.0" fill="none" stroke="#f8efdc" stroke-width="1.0" stroke-linejoin="round" stroke-linecap="round" />
<g clip-path="url(#dt)">
<path d="M61.1 0.0 L-238.9 285.0" fill="none" stroke="#f8efdc" stroke-width="0.9" stroke-linejoin="round" stroke-linecap="round" />
<path d="M92.1 0.0 L-207.9 285.0" fill="none" stroke="#f8efdc" stroke-width="0.9" stroke-linejoin="round" stroke-linecap="round" />
<path d="M123.1 0.0 L-176.9 285.0" fill="none" stroke="#f8efdc" stroke-width="0.9" stroke-linejoin="round" stroke-linecap="round" />
<path d="M154.1 0.0 L-145.9 285.0" fill="none" stroke="#f8efdc" stroke-width="0.9" stroke-linejoin="round" stroke-linecap="round" />
<path d="M185.1 0.0 L-114.9 285.0" fill="none" stroke="#f8efdc" stroke-width="0.9" stroke-linejoin="round" stroke-linecap="round" />
<path d="M216.1 0.0 L-83.9 285.0" fill="none" stroke="#f8efdc" stroke-width="0.9" stroke-linejoin="round" stroke-linecap="round" />
<path d="M247.1 0.0 L-52.9 285.0" fill="none" stroke="#f8efdc" stroke-width="0.9" stroke-linejoin="round" stroke-linecap="round" />
<path d="M278.1 0.0 L-21.9 285.0" fill="none" stroke="#f8efdc" stroke-width="0.9" stroke-linejoin="round" stroke-linecap="round" />
<path d="M309.1 0.0 L9.1 285.0" fill="none" stroke="#f8efdc" stroke-width="0.9" stroke-linejoin="round" stroke-linecap="round" />
<path d="M340.1 0.0 L40.1 285.0" fill="none" stroke="#f8efdc" stroke-width="0.9" stroke-linejoin="round" stroke-linecap="round" />
<path d="M371.1 0.0 L71.1 285.0" fill="none" stroke="#f8efdc" stroke-width="0.9" stroke-linejoin="round" stroke-linecap="round" />
<path d="M402.1 0.0 L102.1 285.0" fill="none" stroke="#f8efdc" stroke-width="0.9" stroke-linejoin="round" stroke-linecap="round" />
<path d="M433.1 0.0 L133.1 285.0" fill="none" stroke="#f8efdc" stroke-width="0.9" stroke-linejoin="round" stroke-linecap="round" />
<path d="M464.1 0.0 L164.1 285.0" fill="none" stroke="#f8efdc" stroke-width="0.9" stroke-linejoin="round" stroke-linecap="round" />
<path d="M495.1 0.0 L195.1 285.0" fill="none" stroke="#f8efdc" stroke-width="0.9" stroke-linejoin="round" stroke-linecap="round" />
<path d="M526.1 0.0 L226.1 285.0" fill="none" stroke="#f8efdc" stroke-width="0.9" stroke-linejoin="round" stroke-linecap="round" />
<path d="M557.1 0.0 L257.1 285.0" fill="none" stroke="#f8efdc" stroke-width="0.9" stroke-linejoin="round" stroke-linecap="round" />
<path d="M588.1 0.0 L288.1 285.0" fill="none" stroke="#f8efdc" stroke-width="0.9" stroke-linejoin="round" stroke-linecap="round" />
<path d="M619.1 0.0 L319.1 285.0" fill="none" stroke="#f8efdc" stroke-width="0.9" stroke-linejoin="round" stroke-linecap="round" />
<path d="M650.1 0.0 L350.1 285.0" fill="none" stroke="#f8efdc" stroke-width="0.9" stroke-linejoin="round" stroke-linecap="round" />
<path d="M681.1 0.0 L381.1 285.0" fill="none" stroke="#f8efdc" stroke-width="0.9" stroke-linejoin="round" stroke-linecap="round" />
<path d="M712.1 0.0 L412.1 285.0" fill="none" stroke="#f8efdc" stroke-width="0.9" stroke-linejoin="round" stroke-linecap="round" />
<path d="M45.6 0.0 L-254.4 285.0" fill="none" stroke="#fdfcf8" stroke-width="1.9" stroke-linejoin="round" stroke-linecap="round" />
<path d="M76.6 0.0 L-223.4 285.0" fill="none" stroke="#fdfcf8" stroke-width="1.9" stroke-linejoin="round" stroke-linecap="round" />
<path d="M107.6 0.0 L-192.4 285.0" fill="none" stroke="#fdfcf8" stroke-width="1.9" stroke-linejoin="round" stroke-linecap="round" />
<path d="M138.6 0.0 L-161.4 285.0" fill="none" stroke="#fdfcf8" stroke-width="1.9" stroke-linejoin="round" stroke-linecap="round" />
<path d="M169.6 0.0 L-130.4 285.0" fill="none" stroke="#fdfcf8" stroke-width="1.9" stroke-linejoin="round" stroke-linecap="round" />
<path d="M200.6 0.0 L-99.4 285.0" fill="none" stroke="#fdfcf8" stroke-width="1.9" stroke-linejoin="round" stroke-linecap="round" />
<path d="M231.6 0.0 L-68.4 285.0" fill="none" stroke="#fdfcf8" stroke-width="2.3" stroke-linejoin="round" stroke-linecap="round" />
<path d="M262.6 0.0 L-37.4 285.0" fill="none" stroke="#fdfcf8" stroke-width="2.3" stroke-linejoin="round" stroke-linecap="round" />
<path d="M324.6 0.0 L24.6 285.0" fill="none" stroke="#fdfcf8" stroke-width="2.3" stroke-linejoin="round" stroke-linecap="round" />
<path d="M355.6 0.0 L55.6 285.0" fill="none" stroke="#fdfcf8" stroke-width="2.3" stroke-linejoin="round" stroke-linecap="round" />
<path d="M386.6 0.0 L86.6 285.0" fill="none" stroke="#fdfcf8" stroke-width="2.3" stroke-linejoin="round" stroke-linecap="round" />
<path d="M417.6 0.0 L117.6 285.0" fill="none" stroke="#fdfcf8" stroke-width="2.3" stroke-linejoin="round" stroke-linecap="round" />
<path d="M448.6 0.0 L148.6 285.0" fill="none" stroke="#fdfcf8" stroke-width="2.3" stroke-linejoin="round" stroke-linecap="round" />
<path d="M479.6 0.0 L179.6 285.0" fill="none" stroke="#fdfcf8" stroke-width="2.3" stroke-linejoin="round" stroke-linecap="round" />
<path d="M510.6 0.0 L210.6 285.0" fill="none" stroke="#fdfcf8" stroke-width="2.3" stroke-linejoin="round" stroke-linecap="round" />
<path d="M541.6 0.0 L241.6 285.0" fill="none" stroke="#fdfcf8" stroke-width="2.3" stroke-linejoin="round" stroke-linecap="round" />
<path d="M572.6 0.0 L272.6 285.0" fill="none" stroke="#fdfcf8" stroke-width="2.3" stroke-linejoin="round" stroke-linecap="round" />
<path d="M603.6 0.0 L303.6 285.0" fill="none" stroke="#fdfcf8" stroke-width="2.3" stroke-linejoin="round" stroke-linecap="round" />
<path d="M634.6 0.0 L334.6 285.0" fill="none" stroke="#fdfcf8" stroke-width="2.3" stroke-linejoin="round" stroke-linecap="round" />
<path d="M665.6 0.0 L365.6 285.0" fill="none" stroke="#fdfcf8" stroke-width="2.3" stroke-linejoin="round" stroke-linecap="round" />
<path d="M696.6 0.0 L396.6 285.0" fill="none" stroke="#fdfcf8" stroke-width="2.3" stroke-linejoin="round" stroke-linecap="round" />
<path d="M41.3 0.0 L341.3 300.0" fill="none" stroke="#fdfcf8" stroke-width="1.8" stroke-linejoin="round" stroke-linecap="round" />
<path d="M87.8 0.0 L387.8 300.0" fill="none" stroke="#fdfcf8" stroke-width="2.4" stroke-linejoin="round" stroke-linecap="round" />
<path d="M134.3 0.0 L434.3 300.0" fill="none" stroke="#fdfcf8" stroke-width="1.8" stroke-linejoin="round" stroke-linecap="round" />
<path d="M180.8 0.0 L480.8 300.0" fill="none" stroke="#fdfcf8" stroke-width="3.2" stroke-linejoin="round" stroke-linecap="round" />
<path d="M227.3 0.0 L527.3 300.0" fill="none" stroke="#fdfcf8" stroke-width="1.8" stroke-linejoin="round" stroke-linecap="round" />
<path d="M273.8 0.0 L573.8 300.0" fill="none" stroke="#fdfcf8" stroke-width="2.4" stroke-linejoin="round" stroke-linecap="round" />
<path d="M320.3 0.0 L620.3 300.0" fill="none" stroke="#fdfcf8" stroke-width="1.8" stroke-linejoin="round" stroke-linecap="round" />
<path d="M366.8 0.0 L666.8 300.0" fill="none" stroke="#fdfcf8" stroke-width="2.4" stroke-linejoin="round" stroke-linecap="round" />
<path d="M413.3 0.0 L713.3 300.0" fill="none" stroke="#fdfcf8" stroke-width="1.8" stroke-linejoin="round" stroke-linecap="round" />
<path d="M459.8 0.0 L759.8 300.0" fill="none" stroke="#fdfcf8" stroke-width="2.4" stroke-linejoin="round" stroke-linecap="round" />
<path d="M506.3 0.0 L806.3 300.0" fill="none" stroke="#fdfcf8" stroke-width="1.8" stroke-linejoin="round" stroke-linecap="round" />
<path d="M552.8 0.0 L852.8 300.0" fill="none" stroke="#fdfcf8" stroke-width="2.4" stroke-linejoin="round" stroke-linecap="round" />
<path d="M599.3 0.0 L899.3 300.0" fill="none" stroke="#fdfcf8" stroke-width="1.8" stroke-linejoin="round" stroke-linecap="round" />
</g>
<g clip-path="url(#east)">
<path d="M700.0 17.0 L850.0 17.0" fill="none" stroke="#f8efdc" stroke-width="1.0" stroke-linejoin="round" stroke-linecap="round" />
<path d="M700.0 29.0 L850.0 29.0" fill="none" stroke="#f8efdc" stroke-width="1.0" stroke-linejoin="round" stroke-linecap="round" />
<path d="M700.0 42.0 L850.0 42.0" fill="none" stroke="#f8efdc" stroke-width="1.0" stroke-linejoin="round" stroke-linecap="round" />
<path d="M700.0 57.0 L850.0 57.0" fill="none" stroke="#f8efdc" stroke-width="1.0" stroke-linejoin="round" stroke-linecap="round" />
<path d="M700.0 72.0 L850.0 72.0" fill="none" stroke="#f8efdc" stroke-width="1.0" stroke-linejoin="round" stroke-linecap="round" />
<path d="M700.0 88.0 L850.0 88.0" fill="none" stroke="#f8efdc" stroke-width="1.0" stroke-linejoin="round" stroke-linecap="round" />
<path d="M700.0 104.0 L850.0 104.0" fill="none" stroke="#f8efdc" stroke-width="1.0" stroke-linejoin="round" stroke-linecap="round" />
<path d="M700.0 120.0 L850.0 120.0" fill="none" stroke="#f8efdc" stroke-width="1.0" stroke-linejoin="round" stroke-linecap="round" />
<path d="M700.0 135.0 L850.0 135.0" fill="none" stroke="#f8efdc" stroke-width="1.0" stroke-linejoin="round" stroke-linecap="round" />
<path d="M700.0 150.0 L850.0 150.0" fill="none" stroke="#f8efdc" stroke-width="1.0" stroke-linejoin="round" stroke-linecap="round" />
<path d="M700.0 165.0 L850.0 165.0" fill="none" stroke="#f8efdc" stroke-width="1.0" stroke-linejoin="round" stroke-linecap="round" />
<path d="M700.0 185.0 L850.0 185.0" fill="none" stroke="#f8efdc" stroke-width="1.0" stroke-linejoin="round" stroke-linecap="round" />
<path d="M700.0 205.0 L850.0 205.0" fill="none" stroke="#f8efdc" stroke-width="1.0" stroke-linejoin="round" stroke-linecap="round" />
<path d="M700.0 225.0 L850.0 225.0" fill="none" stroke="#f8efdc" stroke-width="1.0" stroke-linejoin="round" stroke-linecap="round" />
<path d="M744.0 0.0 L744.0 250.0" fill="none" stroke="#f8efdc" stroke-width="1.0" stroke-linejoin="round" stroke-linecap="round" />
<path d="M773.0 0.0 L773.0 250.0" fill="none" stroke="#f8efdc" stroke-width="1.0" stroke-linejoin="round" stroke-linecap="round" />
<path d="M790.0 0.0 L790.0 250.0" fill="none" stroke="#f8efdc" stroke-width="1.0" stroke-linejoin="round" stroke-linecap="round" />
<path d="M820.0 0.0 L820.0 250.0" fill="none" stroke="#f8efdc" stroke-width="1.0" stroke-linejoin="round" stroke-linecap="round" />
<path d="M845.0 0.0 L845.0 250.0" fill="none" stroke="#f8efdc" stroke-width="1.0" stroke-linejoin="round" stroke-linecap="round" />
</g>
<path d="M25.6 80.2 L51.2 82.0 L61.5 97.3 L51.2 100.7 L25.6 95.6" fill="none" stroke="#e4eecb" stroke-width="1.0" stroke-linejoin="round" stroke-linecap="round" />
<path d="M61.5 97.3 L88.8 83.7 L117.8 70.0" fill="none" stroke="#e4eecb" stroke-width="1.0" stroke-linejoin="round" stroke-linecap="round" />
<path d="M75.1 51.2 L90.5 44.4 L105.9 68.3 L117.8 70.0" fill="none" stroke="#e4eecb" stroke-width="1.0" stroke-linejoin="round" stroke-linecap="round" />
<path d="M88.8 83.7 L102.4 114.4" fill="none" stroke="#e4eecb" stroke-width="1.0" stroke-linejoin="round" stroke-linecap="round" />
<path d="M111.0 75.1 L129.8 119.5" fill="none" stroke="#e4eecb" stroke-width="1.0" stroke-linejoin="round" stroke-linecap="round" />
<path d="M0.0 0.0 L129.8 0.0 L130.6 10.2 L138.3 13.7 L144.3 15.4 L145.1 34.1 L153.7 42.7 L160.5 39.3 L167.3 44.4 L172.4 56.3 L178.4 68.3 L179.3 75.1 L176.7 82.0 L181.0 90.5 L187.8 91.3 L194.6 88.8 L204.9 98.2 L201.5 104.1 L203.2 114.4 L210.0 117.8 L216.8 125.5 L223.7 122.1 L227.9 128.1 L228.8 136.6 L235.6 145.1 L242.4 152.0 L251.0 155.4 L261.2 158.8 L262.9 162.2 L266.3 170.7 L273.2 181.0 L276.6 184.4 L286.8 177.6 L283.0 178.8 L293.2 190.8 L306.9 202.7 L317.1 207.0 L339.3 204.4 L337.6 194.2 L351.3 178.8 L370.1 178.0 L385.4 190.8 L399.1 197.6 L416.2 194.2 L428.1 185.7 L429.8 172.0 L428.1 184.4 L431.5 157.1 L443.5 145.1 L462.3 143.4 L475.9 152.0 L482.8 160.5 L503.2 160.5 L510.1 158.8 L535.7 145.1 L556.2 128.1 L573.3 117.8 L583.0 116.1 L573.2 122.9 L573.2 116.1 L588.6 119.5 L597.1 112.7 L599.7 85.4 L619.3 84.5 L631.3 88.8 L677.4 89.6 L678.2 100.7 L674.8 104.1 L674.0 131.5 L665.4 136.6 L685.9 147.7 L685.9 166.5 L665.4 167.3 L621.1 167.3 L621.1 177.6 L611.7 177.6 L611.7 164.8 L585.2 163.9 L573.2 169.0 L563.0 170.7 L559.6 172.0 L552.8 180.5 L539.1 184.0 L522.0 189.1 L508.4 187.4 L499.8 197.6 L493.0 201.0 L479.3 213.0 L464.0 221.5 L455.4 231.8 L453.7 238.6 L443.5 245.4 L440.1 272.7 L416.2 272.7 L407.6 267.6 L402.5 254.0 L392.3 252.2 L378.6 260.8 L365.0 260.8 L358.1 274.4 L347.9 272.7 L339.3 264.2 L306.9 262.5 L283.0 262.5 L286.8 262.5 L273.2 265.9 L262.9 269.3 L257.8 281.3 L249.3 284.7 L242.4 281.3 L235.6 272.7 L225.4 262.5 L215.1 257.4 L209.2 252.2 L211.7 245.4 L222.0 243.7 L235.6 247.1 L247.6 243.7 L259.5 242.0 L266.3 240.3 L262.9 228.3 L252.7 214.7 L245.9 201.0 L239.0 185.7 L237.3 172.0 L235.6 163.9 L227.1 158.8 L215.1 162.2 L210.0 163.9 L201.5 158.8 L203.2 153.7 L194.6 147.7 L181.0 146.8 L169.0 152.0 L163.9 163.9 L161.3 179.3 L162.2 182.2 L165.6 195.9 L170.7 207.9 L169.0 209.6 L162.2 216.4 L158.8 214.7 L148.5 206.1 L136.6 195.9 L129.8 185.7 L124.6 172.0 L122.1 162.2 L122.1 145.1 L124.6 131.5 L129.8 122.9 L141.7 117.8 L136.6 105.9 L129.8 95.6 L122.9 82.0 L117.8 68.3 L111.0 52.9 L102.4 42.7 L92.2 32.4 L80.2 23.0 L64.9 16.2 L49.5 12.8 L39.3 17.1 L34.1 25.6 L29.0 32.4 L18.8 34.1 L10.2 29.0 L0.0 18.8Z" fill="#7bb9e9" />
<path d="M45.2 42.7 L51.2 32.4 L58.1 39.3 L64.9 44.4 L58.1 50.4 L49.5 49.5Z" fill="#7bb9e9" />
<path d="M38.4 56.3 L42.7 53.8 L49.5 54.6 L47.0 59.8 L41.0 61.1Z" fill="#7bb9e9" />
<path d="M121.2 203.6 L126.3 195.9 L132.3 200.2 L131.5 207.0 L125.5 204.4Z" fill="#7bb9e9" />
<path d="M139.1 210.4 L142.6 204.4 L146.8 211.3 L146.8 218.1 L141.7 216.4Z" fill="#7bb9e9" />
<path d="M170.7 219.8 L177.6 221.5 L184.4 228.3 L191.2 232.6 L189.5 235.2 L181.0 230.1 L172.4 223.2Z" fill="#7bb9e9" />
<path d="M364.1 276.1 L366.7 272.7 L378.6 271.0 L380.3 277.9 L371.8 281.3 L365.0 281.3Z" fill="#7bb9e9" />
<path d="M458.0 238.6 L461.4 237.7 L464.0 242.9 L469.1 242.0 L474.2 250.5 L470.8 249.7 L467.4 244.6 L462.3 246.3Z" fill="#7bb9e9" />
<path d="M306.0 297.5 L309.5 296.6 L312.9 300.1 L314.6 304.3 L311.2 301.8 L307.8 300.9Z" fill="#7bb9e9" />
<circle cx="640.7" cy="6.0" r="2.8" fill="#7bb9e9"/>
<path d="M567.3 190.8 L569.8 197.6 L575.0 202.7 L579.2 205.3" fill="none" stroke="#6fb4e6" stroke-width="1.6" stroke-linejoin="round" stroke-linecap="round" />
<path d="M35.0 199.9 L36.7 167.3 L41.0 155.4 L51.2 146.8 L88.8 128.1 L176.7 83.7 L234.4 56.0" fill="none" stroke="#fff" stroke-width="6.0" stroke-linejoin="round" stroke-linecap="round" />
<path d="M234.5 56.0 L300.0 -6.0" fill="none" stroke="#fff" stroke-width="3.0" stroke-linejoin="round" stroke-linecap="round" />
<path d="M34.1 172.0 L33.3 371.9" fill="none" stroke="#fff" stroke-width="3.6" stroke-linejoin="round" stroke-linecap="round" />
<path d="M0.0 162.2 L38.4 162.2" fill="none" stroke="#fff" stroke-width="4.0" stroke-linejoin="round" stroke-linecap="round" />
<path d="M160.5 -1.7 L170.7 17.1 L204.9 66.6 L245.9 109.3 L266.3 129.8" fill="none" stroke="#fff" stroke-width="3.4" stroke-linejoin="round" stroke-linecap="round" />
<path d="M300.0 82.0 L192.9 186.1 L179.3 204.4 L162.2 219.8 L152.0 231.8 L145.1 245.4 L143.1 267.6 L142.6 371.9" fill="none" stroke="#fff" stroke-width="6.4" stroke-linejoin="round" stroke-linecap="round" />
<path d="M300.0 82.0 L392.0 -6.0" fill="none" stroke="#fff" stroke-width="3.4" stroke-linejoin="round" stroke-linecap="round" />
<path d="M300.0 112.7 L280.0 117.8 L262.9 126.3" fill="none" stroke="#fff" stroke-width="3.4" stroke-linejoin="round" stroke-linecap="round" />
<path d="M266.3 102.4 L271.5 85.4 L280.0 75.1" fill="none" stroke="#fff" stroke-width="3.0" stroke-linejoin="round" stroke-linecap="round" />
<path d="M0.0 265.9 L158.8 267.6 L172.4 277.9 L179.3 289.8 L196.3 303.5 L213.4 308.6 L300.0 311.1 L300.1 312.3 L475.9 315.4 L491.3 308.6 L511.8 289.8 L583.0 240.3 L563.0 254.0 L576.7 240.3 L588.6 236.9 L716.7 237.7 L723.5 240.3 L747.4 260.8 L767.9 281.3 L785.0 291.5 L853.3 295.3" fill="none" stroke="#fff" stroke-width="4.6" stroke-linejoin="round" stroke-linecap="round" />
<path d="M106.7 267.6 L104.5 371.9" fill="none" stroke="#fff" stroke-width="3.6" stroke-linejoin="round" stroke-linecap="round" />
<path d="M179.3 281.3 L179.3 371.9" fill="none" stroke="#fff" stroke-width="3.0" stroke-linejoin="round" stroke-linecap="round" />
<path d="M146.0 294.9 L179.3 294.9" fill="none" stroke="#fff" stroke-width="3.0" stroke-linejoin="round" stroke-linecap="round" />
<path d="M0.0 364.6 L300.0 364.9 L300.1 364.9 L583.0 367.0" fill="none" stroke="#fff" stroke-width="4.0" stroke-linejoin="round" stroke-linecap="round" />
<path d="M324.8 315.4 L324.8 371.9" fill="none" stroke="#fff" stroke-width="3.2" stroke-linejoin="round" stroke-linecap="round" />
<path d="M506.7 338.5 L583.0 341.0 L580.1 341.4 L716.7 344.4 L853.3 345.3" fill="none" stroke="#fff" stroke-width="4.0" stroke-linejoin="round" stroke-linecap="round" />
<path d="M505.0 82.0 L505.8 119.5 L504.1 199.9 L503.2 172.0 L503.2 371.9" fill="none" stroke="#fff" stroke-width="6.5" stroke-linejoin="round" stroke-linecap="round" />
<path d="M505.0 82.0 L470.8 56.3 L426.4 0.0" fill="none" stroke="#fff" stroke-width="3.2" stroke-linejoin="round" stroke-linecap="round" />
<path d="M510.1 119.5 L510.1 95.6 L516.9 59.8 L530.6 44.4 L556.2 35.9 L583.0 42.7" fill="none" stroke="#fff" stroke-width="3.0" stroke-linejoin="round" stroke-linecap="round" />
<path d="M501.5 129.8 L487.9 109.3 L467.4 88.8 L453.7 76.8" fill="none" stroke="#fff" stroke-width="3.0" stroke-linejoin="round" stroke-linecap="round" />
<path d="M279.6 95.6 L293.2 116.1 L313.7 136.6 L330.8 146.8 L354.7 145.1 L385.4 133.2 L441.8 114.4 L470.8 117.8 L496.4 122.9 L503.2 129.8" fill="none" stroke="#fff" stroke-width="6.0" stroke-linejoin="round" stroke-linecap="round" />
<path d="M441.8 112.7 L467.4 114.7 L482.8 109.3 L489.6 102.4" fill="none" stroke="#fff" stroke-width="3.4" stroke-linejoin="round" stroke-linecap="round" />
<path d="M441.8 114.4 L446.9 95.6 L453.7 75.1" fill="none" stroke="#fff" stroke-width="3.6" stroke-linejoin="round" stroke-linecap="round" />
<path d="M510.1 119.5 L530.6 105.9 L583.0 70.0 L563.0 82.0 L580.1 68.3 L605.7 54.6 L631.3 50.4" fill="none" stroke="#fff" stroke-width="4.6" stroke-linejoin="round" stroke-linecap="round" />
<path d="M545.9 17.1 L563.0 29.0 L580.1 39.3 L605.7 46.1 L631.3 49.5 L675.7 51.2 L733.7 54.6" fill="none" stroke="#fff" stroke-width="6.0" stroke-linejoin="round" stroke-linecap="round" />
<path d="M576.7 0.0 L593.7 15.4 L614.2 29.0 L639.8 35.9 L674.0 42.7 L733.7 46.4" fill="none" stroke="#fff" stroke-width="5.0" stroke-linejoin="round" stroke-linecap="round" />
<path d="M613.4 0.0 L613.4 44.4" fill="none" stroke="#fff" stroke-width="3.4" stroke-linejoin="round" stroke-linecap="round" />
<path d="M658.6 0.0 L660.3 10.2 L638.1 29.0" fill="none" stroke="#fff" stroke-width="2.6" stroke-linejoin="round" stroke-linecap="round" />
<path d="M638.1 0.9 L733.7 1.7" fill="none" stroke="#fff" stroke-width="3.4" stroke-linejoin="round" stroke-linecap="round" />
<path d="M563.0 10.2 L573.2 20.5 L593.7 17.1 L583.5 6.8" fill="none" stroke="#fff" stroke-width="2.6" stroke-linejoin="round" stroke-linecap="round" />
<path d="M732.0 0.0 L732.0 95.6 L729.5 136.6 L726.9 170.7 L724.3 187.8 L726.9 172.0 L720.1 197.6 L718.4 240.3 L717.5 371.9" fill="none" stroke="#fff" stroke-width="6.0" stroke-linejoin="round" stroke-linecap="round" />
<path d="M696.2 0.0 L697.0 56.3 L697.9 92.2 L704.7 119.5 L703.0 153.7 L697.9 187.8 L701.3 172.0 L692.8 197.6 L690.2 236.9" fill="none" stroke="#fff" stroke-width="4.4" stroke-linejoin="round" stroke-linecap="round" />
<path d="M680.8 52.9 L692.8 64.9 L697.9 92.2" fill="none" stroke="#fff" stroke-width="3.4" stroke-linejoin="round" stroke-linecap="round" />
<path d="M704.7 150.2 L750.8 158.8 L849.8 186.1" fill="none" stroke="#fff" stroke-width="5.0" stroke-linejoin="round" stroke-linecap="round" />
<path d="M777.3 49.5 L777.3 63.2 L849.8 64.0" fill="none" stroke="#fff" stroke-width="4.0" stroke-linejoin="round" stroke-linecap="round" />
<rect x="580" y="334" width="270" height="38" fill="#fff" opacity="0.45"/>
<text x="-1.0" y="62.0" font-size="11" fill="#7d7a6e" text-anchor="start" stroke="#f4ecdc" stroke-width="2.2" paint-order="stroke" >couver</text>
<text x="-1.0" y="75.0" font-size="11" fill="#7d7a6e" text-anchor="start" stroke="#f4ecdc" stroke-width="2.2" paint-order="stroke" >e Museum</text>
<text x="132.0" y="113.0" font-size="11.5" fill="#2a2a2a" text-anchor="middle" transform="rotate(-27 132.0 113.0)" stroke="#f4ecdc" stroke-width="2.2" paint-order="stroke" >Burrard St Bridge</text>
<text x="243.0" y="152.0" font-size="11.5" fill="#2a2a2a" text-anchor="middle" transform="rotate(-46 243.0 152.0)" stroke="#f4ecdc" stroke-width="2.2" paint-order="stroke" >Granville Bridge</text>
<text x="300.0" y="130.0" font-size="11.5" fill="#2a2a2a" text-anchor="middle" transform="rotate(50 300.0 130.0)" stroke="#f4ecdc" stroke-width="2.2" paint-order="stroke" >Pacific St</text>
<text x="414.0" y="124.0" font-size="11.5" fill="#2a2a2a" text-anchor="middle" transform="rotate(-19 414.0 124.0)" stroke="#f4ecdc" stroke-width="2.2" paint-order="stroke" >Pacific Blvd</text>
<text x="295.0" y="54.0" font-size="11" fill="#7d7a6e" text-anchor="middle" stroke="#f4ecdc" stroke-width="2.2" paint-order="stroke" >Residence Inn</text>
<text x="295.0" y="67.0" font-size="11" fill="#7d7a6e" text-anchor="middle" stroke="#f4ecdc" stroke-width="2.2" paint-order="stroke" >Vancouver Downtown</text>
<text x="410.0" y="74.0" font-size="12" fill="#6e6a5a" text-anchor="middle" stroke="#f4ecdc" stroke-width="2.2" paint-order="stroke" letter-spacing="2.2">YALETOWN</text>
<text x="493.0" y="11.0" font-size="11" fill="#7d7a6e" text-anchor="middle" stroke="#f4ecdc" stroke-width="2.2" paint-order="stroke" >Vancouver</text>
<text x="493.0" y="24.0" font-size="11" fill="#7d7a6e" text-anchor="middle" stroke="#f4ecdc" stroke-width="2.2" paint-order="stroke" >Public Library</text>
<text x="423.0" y="2.0" font-size="11" fill="#7d7a6e" text-anchor="middle" stroke="#f4ecdc" stroke-width="2.2" paint-order="stroke" >Orpheum</text>
<text x="596.0" y="54.0" font-size="11" fill="#7d7a6e" text-anchor="middle" stroke="#f4ecdc" stroke-width="2.2" paint-order="stroke" >Rogers Arena</text>
<text x="547.0" y="81.0" font-size="11" fill="#7d7a6e" text-anchor="middle" stroke="#f4ecdc" stroke-width="2.2" paint-order="stroke" >BC Place</text>
<text x="732.0" y="84.0" font-size="11.5" fill="#2a2a2a" text-anchor="middle" transform="rotate(-90 732.0 84.0)" stroke="#f4ecdc" stroke-width="2.2" paint-order="stroke" >Main St</text>
<text x="506.0" y="185.0" font-size="11.5" fill="#2a2a2a" text-anchor="middle" transform="rotate(-90 506.0 185.0)" stroke="#f4ecdc" stroke-width="2.2" paint-order="stroke" >Cambie St Bridge</text>
<text x="207.0" y="198.0" font-size="12" fill="#6e6a5a" text-anchor="middle" stroke="#f4ecdc" stroke-width="2.2" paint-order="stroke" letter-spacing="2.2">GRANVILLE</text>
<text x="207.0" y="213.5" font-size="12" fill="#6e6a5a" text-anchor="middle" stroke="#f4ecdc" stroke-width="2.2" paint-order="stroke" letter-spacing="2.2">ISLAND</text>
<text x="256.0" y="251.0" font-size="11" fill="#7d7a6e" text-anchor="middle" stroke="#f4ecdc" stroke-width="2.2" paint-order="stroke" >Granville</text>
<text x="256.0" y="264.0" font-size="11" fill="#7d7a6e" text-anchor="middle" stroke="#f4ecdc" stroke-width="2.2" paint-order="stroke" >Island Hotel</text>
<text x="37.0" y="208.0" font-size="11.5" fill="#2a2a2a" text-anchor="middle" transform="rotate(-90 37.0 208.0)" stroke="#f4ecdc" stroke-width="2.2" paint-order="stroke" >Burrard St</text>
<text x="74.0" y="236.0" font-size="11.5" fill="#2a2a2a" text-anchor="middle" transform="rotate(-90 74.0 236.0)" stroke="#f4ecdc" stroke-width="2.2" paint-order="stroke" >Pine St</text>
<text x="108.0" y="309.0" font-size="11.5" fill="#2a2a2a" text-anchor="middle" transform="rotate(-90 108.0 309.0)" stroke="#f4ecdc" stroke-width="2.2" paint-order="stroke" >Fir St</text>
<text x="745.0" y="144.0" font-size="11" fill="#7d7a6e" text-anchor="middle" stroke="#f4ecdc" stroke-width="2.2" paint-order="stroke" >École Polytechnique</text>
<text x="745.0" y="157.0" font-size="11" fill="#7d7a6e" text-anchor="middle" stroke="#f4ecdc" stroke-width="2.2" paint-order="stroke" >massacre</text>
<text x="633.0" y="190.0" font-size="12" fill="#6e6a5a" text-anchor="middle" stroke="#f4ecdc" stroke-width="2.2" paint-order="stroke" letter-spacing="2.2">THE VILLAGE</text>
<text x="633.0" y="205.0" font-size="12" fill="#6e6a5a" text-anchor="middle" stroke="#f4ecdc" stroke-width="2.2" paint-order="stroke" letter-spacing="2.2">SHOPS</text>
<text x="607.0" y="239.0" font-size="11.5" fill="#2a2a2a" text-anchor="middle" transform="rotate(-3 607.0 239.0)" stroke="#f4ecdc" stroke-width="2.2" paint-order="stroke" >W 2nd Ave</text>
<text x="612.0" y="261.0" font-size="11.5" fill="#2a2a2a" text-anchor="middle" stroke="#f4ecdc" stroke-width="2.2" paint-order="stroke" >W 3rd Ave</text>
<text x="693.0" y="263.0" font-size="11.5" fill="#2a2a2a" text-anchor="middle" stroke="#f4ecdc" stroke-width="2.2" paint-order="stroke" >E 3rd Ave</text>
<text x="609.0" y="282.0" font-size="11.5" fill="#2a2a2a" text-anchor="middle" stroke="#f4ecdc" stroke-width="2.2" paint-order="stroke" >W 4th Ave</text>
<text x="703.0" y="284.0" font-size="11.5" fill="#2a2a2a" text-anchor="middle" stroke="#f4ecdc" stroke-width="2.2" paint-order="stroke" >E 4th Ave</text>
<text x="560.0" y="301.0" font-size="11" fill="#7d7a6e" text-anchor="middle" stroke="#f4ecdc" stroke-width="2.2" paint-order="stroke" >Big Rock Brewery</text>
<text x="582.0" y="324.0" font-size="11.5" fill="#2a2a2a" text-anchor="middle" stroke="#f4ecdc" stroke-width="2.2" paint-order="stroke" >W 6th Ave</text>
<text x="725.0" y="327.0" font-size="11.5" fill="#2a2a2a" text-anchor="middle" stroke="#f4ecdc" stroke-width="2.2" paint-order="stroke" >E 6th Ave</text>
<text x="554.0" y="345.0" font-size="11.5" fill="#2a2a2a" text-anchor="start" stroke="#f4ecdc" stroke-width="2.2" paint-order="stroke" >W 7t</text>
<text x="578.0" y="345.0" font-size="11.5" fill="#999" text-anchor="start" stroke="#f4ecdc" stroke-width="2.2" paint-order="stroke" >h Ave</text>
<text x="537.0" y="333.0" font-size="11.5" fill="#2a2a2a" text-anchor="middle" transform="rotate(-90 537.0 333.0)" stroke="#f4ecdc" stroke-width="2.2" paint-order="stroke" >Yukon St</text>
<text x="463.0" y="358.0" font-size="11.5" fill="#2a2a2a" text-anchor="middle" stroke="#f4ecdc" stroke-width="2.2" paint-order="stroke" >W 8th Ave</text>
<text x="285.0" y="314.0" font-size="11.5" fill="#2a2a2a" text-anchor="middle" stroke="#f4ecdc" stroke-width="2.2" paint-order="stroke" >W 6th Ave</text>
<text x="379.0" y="337.0" font-size="11.5" fill="#2a2a2a" text-anchor="middle" stroke="#f4ecdc" stroke-width="2.2" paint-order="stroke" >W 7th Ave</text>
<text x="321.0" y="359.0" font-size="12" fill="#6e6a5a" text-anchor="middle" stroke="#f4ecdc" stroke-width="2.2" paint-order="stroke" letter-spacing="2.2">FAIRVIEW</text>
<text x="140.0" y="367.0" font-size="12" fill="#6e6a5a" text-anchor="middle" stroke="#f4ecdc" stroke-width="2.2" paint-order="stroke" letter-spacing="2.2">SOUTH</text>
<text x="852.0" y="293.0" font-size="11" fill="#7d7a6e" text-anchor="end" stroke="#f4ecdc" stroke-width="2.2" paint-order="stroke" >Emily</text>
<text x="852.0" y="306.0" font-size="11" fill="#7d7a6e" text-anchor="end" stroke="#f4ecdc" stroke-width="2.2" paint-order="stroke" >Unive</text>
<text x="851.0" y="47.0" font-size="12" fill="#2a2a2a" text-anchor="end" stroke="#f4ecdc" stroke-width="2.2" paint-order="stroke" >S</text>
<text x="72.5" y="360.0" font-size="11.5" fill="#2a2a2a" text-anchor="middle" transform="rotate(-90 72.5 360.0)" stroke="#f4ecdc" stroke-width="2.2" paint-order="stroke" >Pine St</text>
<g transform="translate(595.0,36.0)" fill="#8a7d68"><path d="M-4 3.5v-4a4 3.2 0 0 1 8 0v4z"/><rect x="-0.5" y="-5" width="1" height="2.5"/><rect x="-2.6" y="0.6" width="1.6" height="2.9" fill="#ece0c8"/><rect x="1" y="0.6" width="1.6" height="2.9" fill="#ece0c8"/></g>
<g transform="translate(547.0,64.0)" fill="#8a7d68"><path d="M-4 3.5v-4a4 3.2 0 0 1 8 0v4z"/><rect x="-0.5" y="-5" width="1" height="2.5"/><rect x="-2.6" y="0.6" width="1.6" height="2.9" fill="#ece0c8"/><rect x="1" y="0.6" width="1.6" height="2.9" fill="#ece0c8"/></g>
<g transform="translate(294.5,37.0)" fill="none" stroke="#8a7d68" stroke-width="1.1"><path d="M-4 -3.5v7M-4 2.2h8.5v1.3M-4 0.2h8.5v2"/><path d="M-1.5 0v-1.8h4.5a1.5 1.5 0 0 1 1.5 1.8z" fill="#8a7d68" stroke="none"/></g>
<g transform="translate(256.5,232.5)" fill="none" stroke="#8a7d68" stroke-width="1.1"><path d="M-4 -3.5v7M-4 2.2h8.5v1.3M-4 0.2h8.5v2"/><path d="M-1.5 0v-1.8h4.5a1.5 1.5 0 0 1 1.5 1.8z" fill="#8a7d68" stroke="none"/></g>
<g transform="translate(847.0,276.0)" fill="none" stroke="#8a7d68" stroke-width="1.1"><path d="M-4 -3.5v7M-4 2.2h8.5v1.3M-4 0.2h8.5v2"/><path d="M-1.5 0v-1.8h4.5a1.5 1.5 0 0 1 1.5 1.8z" fill="#8a7d68" stroke="none"/></g>
<g transform="translate(5,43)" fill="#8a7d68"><path d="M-4.5 -1.2L0 -4.5L4.5 -1.2z"/><rect x="-4" y="3.2" width="8" height="1.3"/><rect x="-3.3" y="-0.6" width="1.5" height="3.4"/><rect x="-0.75" y="-0.6" width="1.5" height="3.4"/><rect x="1.8" y="-0.6" width="1.5" height="3.4"/></g>
<g transform="translate(745,125.5)" fill="#8a7d68"><rect x="-1.3" y="-5" width="2.6" height="4"/><path d="M-3 3.5l1-4.2h4l1 4.2z"/><rect x="-3.8" y="3.3" width="7.6" height="1.4"/></g>
<g transform="translate(560,285)" fill="#8a7d68"><path d="M-3 -3.5h6l-0.8 7h-4.4z"/><rect x="-3.6" y="-4.6" width="7.2" height="1.4"/></g>
<path d="M122.0 69.0 c-5.5 -6.5 -11 -10.5 -11 -18 a11 11 0 0 1 22 0 c0 7.5 -5.5 11.5 -11 18z" fill="#4cc9e0" opacity="1"/>
<path d="M227.0 199.0 c-5.5 -6.5 -11 -10.5 -11 -18 a11 11 0 0 1 22 0 c0 7.5 -5.5 11.5 -11 18z" fill="#4cc9e0" opacity="0.93"/>
<path d="M342.8 163.0 c-5.5 -6.5 -11 -10.5 -11 -18 a11 11 0 0 1 22 0 c0 7.5 -5.5 11.5 -11 18z" fill="#4cc9e0" opacity="1"/>
<path d="M335.0 306.0 c-5.5 -6.5 -11 -10.5 -11 -18 a11 11 0 0 1 22 0 c0 7.5 -5.5 11.5 -11 18z" fill="#4cc9e0" opacity="1"/>
<path d="M597.1 90.6 c-5.5 -6.5 -11 -10.5 -11 -18 a11 11 0 0 1 22 0 c0 7.5 -5.5 11.5 -11 18z" fill="#4cc9e0" opacity="1"/>
<path d="M691.0 91.4 c-5.5 -6.5 -11 -10.5 -11 -18 a11 11 0 0 1 22 0 c0 7.5 -5.5 11.5 -11 18z" fill="#4cc9e0" opacity="1"/>
<path d="M727.8 67.5 c-5.5 -6.5 -11 -10.5 -11 -18 a11 11 0 0 1 22 0 c0 7.5 -5.5 11.5 -11 18z" fill="#4cc9e0" opacity="1"/>
<path d="M666.0 168.2 c-5.5 -6.5 -11 -10.5 -11 -18 a11 11 0 0 1 22 0 c0 7.5 -5.5 11.5 -11 18z" fill="#4cc9e0" opacity="0.9"/>
<path d="M578.0 192.2 c-5.5 -6.5 -11 -10.5 -11 -18 a11 11 0 0 1 22 0 c0 7.5 -5.5 11.5 -11 18z" fill="#4cc9e0" opacity="0.95"/>
<g transform="translate(7.1,344.4)"><circle cx="10.5" cy="10.5" r="9.4" fill="#fff" fill-opacity="0.85" stroke="#8a8a84" stroke-width="1.6"/><path d="M5.8 14.8c-2-4.5 2.5-9.5 8-7.6l1.6 4.2-4.2 1.8z" fill="#8a8a84"/><path d="M11.6 8.6l0.9 1.7 1.7 0.9-1.7 0.9-0.9 1.7-0.9-1.7-1.7-0.9 1.7-0.9z" fill="#fff"/><text x="23.3" y="16.2" font-size="16" font-weight="bold" fill="#fff" fill-opacity="0.95" stroke="#86867f" stroke-width="1.5" paint-order="stroke" letter-spacing="0.2">mapbox</text></g>
<text x="845" y="368" font-size="12" fill="#41474d" text-anchor="end"><tspan text-decoration="underline">© Mapbox</tspan> <tspan text-decoration="underline">© OpenStreetMap</tspan>&#160; <tspan font-weight="bold" text-decoration="underline">Improve this map</tspan></text>
</g></g>
<rect x="806" y="10" width="35" height="76" rx="4" fill="#fff" stroke="#ddd" stroke-width="1"/>
<rect x="806" y="97" width="35" height="104" rx="4" fill="#fff" stroke="#ddd" stroke-width="1"/>
<path d="M806 45.5h35M806 131.5h35M806 166.5h35" stroke="#ddd" stroke-width="1"/>
<g fill="none" stroke="#c6c6c6" stroke-width="2.6"><circle cx="823.5" cy="27.5" r="6.4"/></g><path d="M823.5 17l2.6 4h-5.2zM823.5 38l2.6-4h-5.2zM813 27.5l4-2.6v5.2zM834 27.5l-4-2.6v5.2z" fill="#c6c6c6"/><circle cx="823.5" cy="27.5" r="2.6" fill="#c6c6c6"/>
<path d="M811 58v-8h8M828 50h8v8M836 67v8h-8M819 75h-8v-8" fill="none" stroke="#333" stroke-width="3.1" stroke-linejoin="round"/>
<path d="M816.5 113.5h14M823.5 106.5v14" stroke="#333" stroke-width="3"/>
<path d="M816.5 149h14" stroke="#333" stroke-width="3"/>
<path d="M823.5 174l4 6.8h-8z" fill="#8b008b"/><path d="M823.5 189.5l4-6.5h-8z" fill="#ccc"/>
</svg>
</div>

<div class="panel" style="left:1324px;top:746px;width:454px;height:417px">
<div class="hd">Locations with out of Range Temperature (C)</div>
<table class="g">
<colgroup><col style="width:129px"><col style="width:160px"><col style="width:67px"><col style="width:79px"></colgroup>
<tr><th>Title</th><th>Address</th><th style="padding-left:8px">Temp....</th><th style="border-right:none"></th></tr>
<tr><td>Charelson Park Facility</td><td>900 Lameys Mill Rd, Vancouver</td><td class="n">9.8</td><td></td></tr>
<tr><td>Granville Island Depot</td><td>1399 Johnston Street, Vancouver</td><td class="n">44.9</td><td></td></tr>
<tr><td>Main Street Pump House</td><td style="white-space:nowrap">920 Main St, Vancouver</td><td class="n">40.3</td><td></td></tr>
<tr><td>Olympic Village Station</td><td>2 Athletes Way, Vancouver</td><td class="n">9.6</td><td></td></tr>
<tr><td>Vanier Pump House</td><td>1661 Whyte Ave, Vancouver</td><td class="n">52.2</td><td></td></tr>
</table>
<div class="abs" style="right:8px;top:389px;font-size:12px;color:#999">5 records</div>
</div>

<div class="abs" style="left:291px;top:1164px;width:102px;height:12px;background:#ececec;border:1px solid #dcdcdc;border-radius:5px"></div>
</body>
</html>
